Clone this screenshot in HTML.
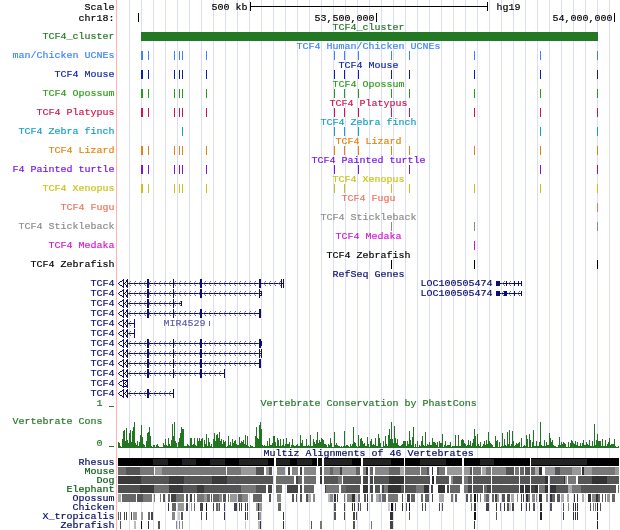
<!DOCTYPE html>
<html><head><meta charset="utf-8"><title>UCSC Genome Browser chr18 TCF4</title>
<style>
html,body{margin:0;padding:0;background:#fff;}
#b{position:relative;width:620px;height:530px;overflow:hidden;background:#fff;}
#b svg{position:absolute;left:0;top:0;}
.t{position:absolute;font-family:"Liberation Mono", monospace;font-size:10px;line-height:10px;height:10px;white-space:pre;letter-spacing:0;transform:scaleY(.9);transform-origin:0 0;-webkit-text-stroke:.18px currentColor;}
.u{-webkit-text-stroke:.6px currentColor;width:5px;overflow:hidden;}
</style></head><body>
<div id="b">
<svg width="620" height="530" viewBox="0 0 620 530" shape-rendering="crispEdges">
<rect x="129" y="0" width="1" height="530" fill="#dcdcff"/>
<rect x="141" y="0" width="1" height="530" fill="#dcdcff"/>
<rect x="153" y="0" width="1" height="530" fill="#dcdcff"/>
<rect x="165" y="0" width="1" height="530" fill="#dcdcff"/>
<rect x="177" y="0" width="1" height="530" fill="#dcdcff"/>
<rect x="189" y="0" width="1" height="530" fill="#dcdcff"/>
<rect x="201" y="0" width="1" height="530" fill="#dcdcff"/>
<rect x="213" y="0" width="1" height="530" fill="#dcdcff"/>
<rect x="225" y="0" width="1" height="530" fill="#dcdcff"/>
<rect x="237" y="0" width="1" height="530" fill="#dcdcff"/>
<rect x="249" y="0" width="1" height="530" fill="#dcdcff"/>
<rect x="261" y="0" width="1" height="530" fill="#dcdcff"/>
<rect x="273" y="0" width="1" height="530" fill="#dcdcff"/>
<rect x="285" y="0" width="1" height="530" fill="#dcdcff"/>
<rect x="297" y="0" width="1" height="530" fill="#dcdcff"/>
<rect x="309" y="0" width="1" height="530" fill="#dcdcff"/>
<rect x="321" y="0" width="1" height="530" fill="#dcdcff"/>
<rect x="333" y="0" width="1" height="530" fill="#dcdcff"/>
<rect x="345" y="0" width="1" height="530" fill="#dcdcff"/>
<rect x="357" y="0" width="1" height="530" fill="#dcdcff"/>
<rect x="369" y="0" width="1" height="530" fill="#dcdcff"/>
<rect x="381" y="0" width="1" height="530" fill="#dcdcff"/>
<rect x="393" y="0" width="1" height="530" fill="#dcdcff"/>
<rect x="405" y="0" width="1" height="530" fill="#dcdcff"/>
<rect x="417" y="0" width="1" height="530" fill="#dcdcff"/>
<rect x="429" y="0" width="1" height="530" fill="#dcdcff"/>
<rect x="441" y="0" width="1" height="530" fill="#dcdcff"/>
<rect x="453" y="0" width="1" height="530" fill="#dcdcff"/>
<rect x="465" y="0" width="1" height="530" fill="#dcdcff"/>
<rect x="477" y="0" width="1" height="530" fill="#dcdcff"/>
<rect x="489" y="0" width="1" height="530" fill="#dcdcff"/>
<rect x="501" y="0" width="1" height="530" fill="#dcdcff"/>
<rect x="513" y="0" width="1" height="530" fill="#dcdcff"/>
<rect x="525" y="0" width="1" height="530" fill="#dcdcff"/>
<rect x="537" y="0" width="1" height="530" fill="#dcdcff"/>
<rect x="549" y="0" width="1" height="530" fill="#dcdcff"/>
<rect x="561" y="0" width="1" height="530" fill="#dcdcff"/>
<rect x="573" y="0" width="1" height="530" fill="#dcdcff"/>
<rect x="585" y="0" width="1" height="530" fill="#dcdcff"/>
<rect x="597" y="0" width="1" height="530" fill="#dcdcff"/>
<rect x="609" y="0" width="1" height="530" fill="#dcdcff"/>
<rect x="116" y="0" width="1" height="530" fill="#ffb4b4"/>
<rect x="250" y="6" width="238" height="1" fill="#000000"/>
<rect x="250" y="2" width="1" height="9" fill="#000000"/>
<rect x="487" y="2" width="1" height="9" fill="#000000"/>
<rect x="138" y="13" width="1" height="9" fill="#000000"/>
<rect x="376" y="13" width="1" height="9" fill="#000000"/>
<rect x="614" y="13" width="1" height="9" fill="#000000"/>
<rect x="141" y="32" width="457" height="9" fill="#237823"/>
<rect x="141" y="51" width="2" height="9" fill="#3c82ff"/>
<rect x="148" y="51" width="1" height="9" fill="#3c82ff"/>
<rect x="174" y="51" width="1" height="9" fill="#3c82ff"/>
<rect x="179" y="51" width="1" height="9" fill="#3c82ff"/>
<rect x="182" y="51" width="1" height="9" fill="#3c82ff"/>
<rect x="206" y="51" width="1" height="9" fill="#3c82ff"/>
<rect x="334" y="51" width="1" height="9" fill="#3c82ff"/>
<rect x="344" y="51" width="1" height="9" fill="#3c82ff"/>
<rect x="358" y="51" width="1" height="9" fill="#3c82ff"/>
<rect x="391" y="51" width="1" height="9" fill="#3c82ff"/>
<rect x="409" y="51" width="1" height="9" fill="#3c82ff"/>
<rect x="474" y="51" width="1" height="9" fill="#3c82ff"/>
<rect x="540" y="51" width="1" height="9" fill="#3c82ff"/>
<rect x="597" y="51" width="1" height="9" fill="#3c82ff"/>
<rect x="141" y="70" width="2" height="9" fill="#0a1eb4"/>
<rect x="148" y="70" width="1" height="9" fill="#0a1eb4"/>
<rect x="174" y="70" width="1" height="9" fill="#0a1eb4"/>
<rect x="179" y="70" width="1" height="9" fill="#0a1eb4"/>
<rect x="182" y="70" width="1" height="9" fill="#0a1eb4"/>
<rect x="206" y="70" width="1" height="9" fill="#0a1eb4"/>
<rect x="334" y="70" width="1" height="9" fill="#0a1eb4"/>
<rect x="344" y="70" width="1" height="9" fill="#0a1eb4"/>
<rect x="358" y="70" width="1" height="9" fill="#0a1eb4"/>
<rect x="391" y="70" width="1" height="9" fill="#0a1eb4"/>
<rect x="409" y="70" width="1" height="9" fill="#0a1eb4"/>
<rect x="474" y="70" width="1" height="9" fill="#0a1eb4"/>
<rect x="540" y="70" width="1" height="9" fill="#0a1eb4"/>
<rect x="597" y="70" width="1" height="9" fill="#0a1eb4"/>
<rect x="141" y="89" width="2" height="9" fill="#2a9b14"/>
<rect x="148" y="89" width="1" height="9" fill="#2a9b14"/>
<rect x="174" y="89" width="1" height="9" fill="#2a9b14"/>
<rect x="179" y="89" width="1" height="9" fill="#2a9b14"/>
<rect x="182" y="89" width="1" height="9" fill="#2a9b14"/>
<rect x="206" y="89" width="1" height="9" fill="#2a9b14"/>
<rect x="334" y="89" width="1" height="9" fill="#2a9b14"/>
<rect x="344" y="89" width="1" height="9" fill="#2a9b14"/>
<rect x="358" y="89" width="1" height="9" fill="#2a9b14"/>
<rect x="391" y="89" width="1" height="9" fill="#2a9b14"/>
<rect x="409" y="89" width="1" height="9" fill="#2a9b14"/>
<rect x="474" y="89" width="1" height="9" fill="#2a9b14"/>
<rect x="540" y="89" width="1" height="9" fill="#2a9b14"/>
<rect x="597" y="89" width="1" height="9" fill="#2a9b14"/>
<rect x="141" y="108" width="2" height="9" fill="#d2144b"/>
<rect x="148" y="108" width="1" height="9" fill="#d2144b"/>
<rect x="174" y="108" width="1" height="9" fill="#d2144b"/>
<rect x="179" y="108" width="1" height="9" fill="#d2144b"/>
<rect x="182" y="108" width="1" height="9" fill="#d2144b"/>
<rect x="206" y="108" width="1" height="9" fill="#d2144b"/>
<rect x="334" y="108" width="1" height="9" fill="#d2144b"/>
<rect x="344" y="108" width="1" height="9" fill="#d2144b"/>
<rect x="358" y="108" width="1" height="9" fill="#d2144b"/>
<rect x="391" y="108" width="1" height="9" fill="#d2144b"/>
<rect x="409" y="108" width="1" height="9" fill="#d2144b"/>
<rect x="474" y="108" width="1" height="9" fill="#d2144b"/>
<rect x="540" y="108" width="1" height="9" fill="#d2144b"/>
<rect x="597" y="108" width="1" height="9" fill="#d2144b"/>
<rect x="182" y="127" width="1" height="9" fill="#14a0c8"/>
<rect x="334" y="127" width="1" height="9" fill="#14a0c8"/>
<rect x="344" y="127" width="1" height="9" fill="#14a0c8"/>
<rect x="358" y="127" width="1" height="9" fill="#14a0c8"/>
<rect x="540" y="127" width="1" height="9" fill="#14a0c8"/>
<rect x="597" y="127" width="1" height="9" fill="#14a0c8"/>
<rect x="141" y="146" width="2" height="9" fill="#e6820a"/>
<rect x="148" y="146" width="1" height="9" fill="#e6820a"/>
<rect x="174" y="146" width="1" height="9" fill="#e6820a"/>
<rect x="179" y="146" width="1" height="9" fill="#e6820a"/>
<rect x="182" y="146" width="1" height="9" fill="#e6820a"/>
<rect x="206" y="146" width="1" height="9" fill="#e6820a"/>
<rect x="334" y="146" width="1" height="9" fill="#e6820a"/>
<rect x="344" y="146" width="1" height="9" fill="#e6820a"/>
<rect x="358" y="146" width="1" height="9" fill="#e6820a"/>
<rect x="391" y="146" width="1" height="9" fill="#e6820a"/>
<rect x="409" y="146" width="1" height="9" fill="#e6820a"/>
<rect x="474" y="146" width="1" height="9" fill="#e6820a"/>
<rect x="540" y="146" width="1" height="9" fill="#e6820a"/>
<rect x="597" y="146" width="1" height="9" fill="#e6820a"/>
<rect x="141" y="165" width="2" height="9" fill="#7814e6"/>
<rect x="148" y="165" width="1" height="9" fill="#7814e6"/>
<rect x="174" y="165" width="1" height="9" fill="#7814e6"/>
<rect x="179" y="165" width="1" height="9" fill="#7814e6"/>
<rect x="182" y="165" width="1" height="9" fill="#7814e6"/>
<rect x="206" y="165" width="1" height="9" fill="#7814e6"/>
<rect x="334" y="165" width="1" height="9" fill="#7814e6"/>
<rect x="358" y="165" width="1" height="9" fill="#7814e6"/>
<rect x="409" y="165" width="1" height="9" fill="#7814e6"/>
<rect x="540" y="165" width="1" height="9" fill="#7814e6"/>
<rect x="597" y="165" width="1" height="9" fill="#7814e6"/>
<rect x="141" y="184" width="2" height="9" fill="#c8c314"/>
<rect x="148" y="184" width="1" height="9" fill="#c8c314"/>
<rect x="174" y="184" width="1" height="9" fill="#c8c314"/>
<rect x="179" y="184" width="1" height="9" fill="#c8c314"/>
<rect x="182" y="184" width="1" height="9" fill="#c8c314"/>
<rect x="206" y="184" width="1" height="9" fill="#c8c314"/>
<rect x="334" y="184" width="1" height="9" fill="#c8c314"/>
<rect x="344" y="184" width="1" height="9" fill="#c8c314"/>
<rect x="391" y="184" width="1" height="9" fill="#c8c314"/>
<rect x="409" y="184" width="1" height="9" fill="#c8c314"/>
<rect x="474" y="184" width="1" height="9" fill="#c8c314"/>
<rect x="540" y="184" width="1" height="9" fill="#c8c314"/>
<rect x="597" y="184" width="1" height="9" fill="#c8c314"/>
<rect x="597" y="203" width="1" height="9" fill="#f0735a"/>
<rect x="391" y="222" width="1" height="9" fill="#8c8c8c"/>
<rect x="474" y="222" width="1" height="9" fill="#8c8c8c"/>
<rect x="597" y="222" width="1" height="9" fill="#8c8c8c"/>
<rect x="474" y="241" width="1" height="9" fill="#d214d2"/>
<rect x="391" y="260" width="1" height="9" fill="#000000"/>
<rect x="474" y="260" width="1" height="9" fill="#000000"/>
<rect x="597" y="260" width="1" height="9" fill="#000000"/>
<path d="M118 283h1v1h-1zM119 282h1v1h-1zM119 284h1v1h-1zM120 281h1v1h-1zM120 285h1v1h-1zM121 281h1v1h-1zM121 285h1v1h-1zM122 280h1v1h-1zM122 286h1v1h-1zM123 279h1v1h-1zM123 287h1v1h-1zM124 283h1v1h-1zM125 282h1v1h-1zM125 284h1v1h-1zM126 280h1v1h-1zM126 281h1v1h-1zM126 285h1v1h-1zM126 286h1v1h-1zM127 279h1v1h-1zM127 287h1v1h-1zM123 279h1v9h-1zM127 279h1v9h-1z" fill="#0c0c78"/>
<rect x="128" y="283" width="156" height="1" fill="#0c0c78"/>
<path d="M128 283h1v1h-1zM133 283h1v1h-1zM138 283h1v1h-1zM143 283h1v1h-1zM148 283h1v1h-1zM153 283h1v1h-1zM158 283h1v1h-1zM163 283h1v1h-1zM168 283h1v1h-1zM173 283h1v1h-1zM178 283h1v1h-1zM183 283h1v1h-1zM188 283h1v1h-1zM193 283h1v1h-1zM198 283h1v1h-1zM203 283h1v1h-1zM208 283h1v1h-1zM213 283h1v1h-1zM218 283h1v1h-1zM223 283h1v1h-1zM228 283h1v1h-1zM233 283h1v1h-1zM238 283h1v1h-1zM243 283h1v1h-1zM248 283h1v1h-1zM253 283h1v1h-1zM258 283h1v1h-1zM263 283h1v1h-1zM268 283h1v1h-1zM273 283h1v1h-1zM278 283h1v1h-1z" fill="#4c4c9e"/>
<path d="M129 282h1v1h-1zM129 284h1v1h-1zM134 282h1v1h-1zM134 284h1v1h-1zM139 282h1v1h-1zM139 284h1v1h-1zM144 282h1v1h-1zM144 284h1v1h-1zM149 282h1v1h-1zM149 284h1v1h-1zM154 282h1v1h-1zM154 284h1v1h-1zM159 282h1v1h-1zM159 284h1v1h-1zM164 282h1v1h-1zM164 284h1v1h-1zM169 282h1v1h-1zM169 284h1v1h-1zM174 282h1v1h-1zM174 284h1v1h-1zM179 282h1v1h-1zM179 284h1v1h-1zM184 282h1v1h-1zM184 284h1v1h-1zM189 282h1v1h-1zM189 284h1v1h-1zM194 282h1v1h-1zM194 284h1v1h-1zM199 282h1v1h-1zM199 284h1v1h-1zM204 282h1v1h-1zM204 284h1v1h-1zM209 282h1v1h-1zM209 284h1v1h-1zM214 282h1v1h-1zM214 284h1v1h-1zM219 282h1v1h-1zM219 284h1v1h-1zM224 282h1v1h-1zM224 284h1v1h-1zM229 282h1v1h-1zM229 284h1v1h-1zM234 282h1v1h-1zM234 284h1v1h-1zM239 282h1v1h-1zM239 284h1v1h-1zM244 282h1v1h-1zM244 284h1v1h-1zM249 282h1v1h-1zM249 284h1v1h-1zM254 282h1v1h-1zM254 284h1v1h-1zM259 282h1v1h-1zM259 284h1v1h-1zM264 282h1v1h-1zM264 284h1v1h-1zM269 282h1v1h-1zM269 284h1v1h-1zM274 282h1v1h-1zM274 284h1v1h-1zM279 282h1v1h-1zM279 284h1v1h-1z" fill="#9494ca"/>
<path d="M130 281h1v1h-1zM130 285h1v1h-1zM135 281h1v1h-1zM135 285h1v1h-1zM140 281h1v1h-1zM140 285h1v1h-1zM145 281h1v1h-1zM145 285h1v1h-1zM150 281h1v1h-1zM150 285h1v1h-1zM155 281h1v1h-1zM155 285h1v1h-1zM160 281h1v1h-1zM160 285h1v1h-1zM165 281h1v1h-1zM165 285h1v1h-1zM170 281h1v1h-1zM170 285h1v1h-1zM175 281h1v1h-1zM175 285h1v1h-1zM180 281h1v1h-1zM180 285h1v1h-1zM185 281h1v1h-1zM185 285h1v1h-1zM190 281h1v1h-1zM190 285h1v1h-1zM195 281h1v1h-1zM195 285h1v1h-1zM200 281h1v1h-1zM200 285h1v1h-1zM205 281h1v1h-1zM205 285h1v1h-1zM210 281h1v1h-1zM210 285h1v1h-1zM215 281h1v1h-1zM215 285h1v1h-1zM220 281h1v1h-1zM220 285h1v1h-1zM225 281h1v1h-1zM225 285h1v1h-1zM230 281h1v1h-1zM230 285h1v1h-1zM235 281h1v1h-1zM235 285h1v1h-1zM240 281h1v1h-1zM240 285h1v1h-1zM245 281h1v1h-1zM245 285h1v1h-1zM250 281h1v1h-1zM250 285h1v1h-1zM255 281h1v1h-1zM255 285h1v1h-1zM260 281h1v1h-1zM260 285h1v1h-1zM265 281h1v1h-1zM265 285h1v1h-1zM270 281h1v1h-1zM270 285h1v1h-1zM275 281h1v1h-1zM275 285h1v1h-1zM280 281h1v1h-1zM280 285h1v1h-1z" fill="#5d5da8"/>
<rect x="147" y="279" width="2" height="9" fill="#0c0c78"/>
<rect x="173" y="279" width="1" height="9" fill="#0c0c78"/>
<rect x="200" y="279" width="2" height="9" fill="#0c0c78"/>
<rect x="259" y="279" width="2" height="9" fill="#0c0c78"/>
<rect x="281" y="279" width="1" height="9" fill="#0c0c78"/>
<rect x="283" y="279" width="1" height="9" fill="#0c0c78"/>
<path d="M118 293h1v1h-1zM119 292h1v1h-1zM119 294h1v1h-1zM120 291h1v1h-1zM120 295h1v1h-1zM121 291h1v1h-1zM121 295h1v1h-1zM122 290h1v1h-1zM122 296h1v1h-1zM123 289h1v1h-1zM123 297h1v1h-1zM124 293h1v1h-1zM125 292h1v1h-1zM125 294h1v1h-1zM126 290h1v1h-1zM126 291h1v1h-1zM126 295h1v1h-1zM126 296h1v1h-1zM127 289h1v1h-1zM127 297h1v1h-1zM123 289h1v9h-1zM127 289h1v9h-1z" fill="#0c0c78"/>
<rect x="128" y="293" width="134" height="1" fill="#0c0c78"/>
<path d="M128 293h1v1h-1zM133 293h1v1h-1zM138 293h1v1h-1zM143 293h1v1h-1zM148 293h1v1h-1zM153 293h1v1h-1zM158 293h1v1h-1zM163 293h1v1h-1zM168 293h1v1h-1zM173 293h1v1h-1zM178 293h1v1h-1zM183 293h1v1h-1zM188 293h1v1h-1zM193 293h1v1h-1zM198 293h1v1h-1zM203 293h1v1h-1zM208 293h1v1h-1zM213 293h1v1h-1zM218 293h1v1h-1zM223 293h1v1h-1zM228 293h1v1h-1zM233 293h1v1h-1zM238 293h1v1h-1zM243 293h1v1h-1zM248 293h1v1h-1zM253 293h1v1h-1zM258 293h1v1h-1z" fill="#4c4c9e"/>
<path d="M129 292h1v1h-1zM129 294h1v1h-1zM134 292h1v1h-1zM134 294h1v1h-1zM139 292h1v1h-1zM139 294h1v1h-1zM144 292h1v1h-1zM144 294h1v1h-1zM149 292h1v1h-1zM149 294h1v1h-1zM154 292h1v1h-1zM154 294h1v1h-1zM159 292h1v1h-1zM159 294h1v1h-1zM164 292h1v1h-1zM164 294h1v1h-1zM169 292h1v1h-1zM169 294h1v1h-1zM174 292h1v1h-1zM174 294h1v1h-1zM179 292h1v1h-1zM179 294h1v1h-1zM184 292h1v1h-1zM184 294h1v1h-1zM189 292h1v1h-1zM189 294h1v1h-1zM194 292h1v1h-1zM194 294h1v1h-1zM199 292h1v1h-1zM199 294h1v1h-1zM204 292h1v1h-1zM204 294h1v1h-1zM209 292h1v1h-1zM209 294h1v1h-1zM214 292h1v1h-1zM214 294h1v1h-1zM219 292h1v1h-1zM219 294h1v1h-1zM224 292h1v1h-1zM224 294h1v1h-1zM229 292h1v1h-1zM229 294h1v1h-1zM234 292h1v1h-1zM234 294h1v1h-1zM239 292h1v1h-1zM239 294h1v1h-1zM244 292h1v1h-1zM244 294h1v1h-1zM249 292h1v1h-1zM249 294h1v1h-1zM254 292h1v1h-1zM254 294h1v1h-1zM259 292h1v1h-1zM259 294h1v1h-1z" fill="#9494ca"/>
<path d="M130 291h1v1h-1zM130 295h1v1h-1zM135 291h1v1h-1zM135 295h1v1h-1zM140 291h1v1h-1zM140 295h1v1h-1zM145 291h1v1h-1zM145 295h1v1h-1zM150 291h1v1h-1zM150 295h1v1h-1zM155 291h1v1h-1zM155 295h1v1h-1zM160 291h1v1h-1zM160 295h1v1h-1zM165 291h1v1h-1zM165 295h1v1h-1zM170 291h1v1h-1zM170 295h1v1h-1zM175 291h1v1h-1zM175 295h1v1h-1zM180 291h1v1h-1zM180 295h1v1h-1zM185 291h1v1h-1zM185 295h1v1h-1zM190 291h1v1h-1zM190 295h1v1h-1zM195 291h1v1h-1zM195 295h1v1h-1zM200 291h1v1h-1zM200 295h1v1h-1zM205 291h1v1h-1zM205 295h1v1h-1zM210 291h1v1h-1zM210 295h1v1h-1zM215 291h1v1h-1zM215 295h1v1h-1zM220 291h1v1h-1zM220 295h1v1h-1zM225 291h1v1h-1zM225 295h1v1h-1zM230 291h1v1h-1zM230 295h1v1h-1zM235 291h1v1h-1zM235 295h1v1h-1zM240 291h1v1h-1zM240 295h1v1h-1zM245 291h1v1h-1zM245 295h1v1h-1zM250 291h1v1h-1zM250 295h1v1h-1zM255 291h1v1h-1zM255 295h1v1h-1zM260 291h1v1h-1zM260 295h1v1h-1z" fill="#5d5da8"/>
<rect x="147" y="289" width="2" height="9" fill="#0c0c78"/>
<rect x="173" y="289" width="1" height="9" fill="#0c0c78"/>
<rect x="200" y="289" width="2" height="9" fill="#0c0c78"/>
<rect x="259" y="289" width="1" height="9" fill="#0c0c78"/>
<rect x="261" y="291" width="1" height="5" fill="#0c0c78"/>
<rect x="260" y="291" width="1" height="1" fill="#0c0c78"/>
<rect x="260" y="295" width="1" height="1" fill="#0c0c78"/>
<path d="M118 303h1v1h-1zM119 302h1v1h-1zM119 304h1v1h-1zM120 301h1v1h-1zM120 305h1v1h-1zM121 301h1v1h-1zM121 305h1v1h-1zM122 300h1v1h-1zM122 306h1v1h-1zM123 299h1v1h-1zM123 307h1v1h-1zM124 303h1v1h-1zM125 302h1v1h-1zM125 304h1v1h-1zM126 300h1v1h-1zM126 301h1v1h-1zM126 305h1v1h-1zM126 306h1v1h-1zM127 299h1v1h-1zM127 307h1v1h-1zM123 299h1v9h-1zM127 299h1v9h-1z" fill="#0c0c78"/>
<rect x="128" y="303" width="54" height="1" fill="#0c0c78"/>
<path d="M128 303h1v1h-1zM133 303h1v1h-1zM138 303h1v1h-1zM143 303h1v1h-1zM148 303h1v1h-1zM153 303h1v1h-1zM158 303h1v1h-1zM163 303h1v1h-1zM168 303h1v1h-1zM173 303h1v1h-1zM178 303h1v1h-1z" fill="#4c4c9e"/>
<path d="M129 302h1v1h-1zM129 304h1v1h-1zM134 302h1v1h-1zM134 304h1v1h-1zM139 302h1v1h-1zM139 304h1v1h-1zM144 302h1v1h-1zM144 304h1v1h-1zM149 302h1v1h-1zM149 304h1v1h-1zM154 302h1v1h-1zM154 304h1v1h-1zM159 302h1v1h-1zM159 304h1v1h-1zM164 302h1v1h-1zM164 304h1v1h-1zM169 302h1v1h-1zM169 304h1v1h-1zM174 302h1v1h-1zM174 304h1v1h-1zM179 302h1v1h-1zM179 304h1v1h-1z" fill="#9494ca"/>
<path d="M130 301h1v1h-1zM130 305h1v1h-1zM135 301h1v1h-1zM135 305h1v1h-1zM140 301h1v1h-1zM140 305h1v1h-1zM145 301h1v1h-1zM145 305h1v1h-1zM150 301h1v1h-1zM150 305h1v1h-1zM155 301h1v1h-1zM155 305h1v1h-1zM160 301h1v1h-1zM160 305h1v1h-1zM165 301h1v1h-1zM165 305h1v1h-1zM170 301h1v1h-1zM170 305h1v1h-1zM175 301h1v1h-1zM175 305h1v1h-1zM180 301h1v1h-1zM180 305h1v1h-1z" fill="#5d5da8"/>
<rect x="147" y="299" width="2" height="9" fill="#0c0c78"/>
<rect x="173" y="299" width="1" height="9" fill="#0c0c78"/>
<rect x="181" y="301" width="1" height="5" fill="#0c0c78"/>
<path d="M118 313h1v1h-1zM119 312h1v1h-1zM119 314h1v1h-1zM120 311h1v1h-1zM120 315h1v1h-1zM121 311h1v1h-1zM121 315h1v1h-1zM122 310h1v1h-1zM122 316h1v1h-1zM123 309h1v1h-1zM123 317h1v1h-1zM124 313h1v1h-1zM125 312h1v1h-1zM125 314h1v1h-1zM126 310h1v1h-1zM126 311h1v1h-1zM126 315h1v1h-1zM126 316h1v1h-1zM127 309h1v1h-1zM127 317h1v1h-1zM123 309h1v9h-1zM127 309h1v9h-1z" fill="#0c0c78"/>
<rect x="128" y="313" width="132" height="1" fill="#0c0c78"/>
<path d="M128 313h1v1h-1zM133 313h1v1h-1zM138 313h1v1h-1zM143 313h1v1h-1zM148 313h1v1h-1zM153 313h1v1h-1zM158 313h1v1h-1zM163 313h1v1h-1zM168 313h1v1h-1zM173 313h1v1h-1zM178 313h1v1h-1zM183 313h1v1h-1zM188 313h1v1h-1zM193 313h1v1h-1zM198 313h1v1h-1zM203 313h1v1h-1zM208 313h1v1h-1zM213 313h1v1h-1zM218 313h1v1h-1zM223 313h1v1h-1zM228 313h1v1h-1zM233 313h1v1h-1zM238 313h1v1h-1zM243 313h1v1h-1zM248 313h1v1h-1zM253 313h1v1h-1z" fill="#4c4c9e"/>
<path d="M129 312h1v1h-1zM129 314h1v1h-1zM134 312h1v1h-1zM134 314h1v1h-1zM139 312h1v1h-1zM139 314h1v1h-1zM144 312h1v1h-1zM144 314h1v1h-1zM149 312h1v1h-1zM149 314h1v1h-1zM154 312h1v1h-1zM154 314h1v1h-1zM159 312h1v1h-1zM159 314h1v1h-1zM164 312h1v1h-1zM164 314h1v1h-1zM169 312h1v1h-1zM169 314h1v1h-1zM174 312h1v1h-1zM174 314h1v1h-1zM179 312h1v1h-1zM179 314h1v1h-1zM184 312h1v1h-1zM184 314h1v1h-1zM189 312h1v1h-1zM189 314h1v1h-1zM194 312h1v1h-1zM194 314h1v1h-1zM199 312h1v1h-1zM199 314h1v1h-1zM204 312h1v1h-1zM204 314h1v1h-1zM209 312h1v1h-1zM209 314h1v1h-1zM214 312h1v1h-1zM214 314h1v1h-1zM219 312h1v1h-1zM219 314h1v1h-1zM224 312h1v1h-1zM224 314h1v1h-1zM229 312h1v1h-1zM229 314h1v1h-1zM234 312h1v1h-1zM234 314h1v1h-1zM239 312h1v1h-1zM239 314h1v1h-1zM244 312h1v1h-1zM244 314h1v1h-1zM249 312h1v1h-1zM249 314h1v1h-1zM254 312h1v1h-1zM254 314h1v1h-1z" fill="#9494ca"/>
<path d="M130 311h1v1h-1zM130 315h1v1h-1zM135 311h1v1h-1zM135 315h1v1h-1zM140 311h1v1h-1zM140 315h1v1h-1zM145 311h1v1h-1zM145 315h1v1h-1zM150 311h1v1h-1zM150 315h1v1h-1zM155 311h1v1h-1zM155 315h1v1h-1zM160 311h1v1h-1zM160 315h1v1h-1zM165 311h1v1h-1zM165 315h1v1h-1zM170 311h1v1h-1zM170 315h1v1h-1zM175 311h1v1h-1zM175 315h1v1h-1zM180 311h1v1h-1zM180 315h1v1h-1zM185 311h1v1h-1zM185 315h1v1h-1zM190 311h1v1h-1zM190 315h1v1h-1zM195 311h1v1h-1zM195 315h1v1h-1zM200 311h1v1h-1zM200 315h1v1h-1zM205 311h1v1h-1zM205 315h1v1h-1zM210 311h1v1h-1zM210 315h1v1h-1zM215 311h1v1h-1zM215 315h1v1h-1zM220 311h1v1h-1zM220 315h1v1h-1zM225 311h1v1h-1zM225 315h1v1h-1zM230 311h1v1h-1zM230 315h1v1h-1zM235 311h1v1h-1zM235 315h1v1h-1zM240 311h1v1h-1zM240 315h1v1h-1zM245 311h1v1h-1zM245 315h1v1h-1zM250 311h1v1h-1zM250 315h1v1h-1zM255 311h1v1h-1zM255 315h1v1h-1z" fill="#5d5da8"/>
<rect x="147" y="309" width="2" height="9" fill="#0c0c78"/>
<rect x="173" y="309" width="1" height="9" fill="#0c0c78"/>
<rect x="200" y="309" width="2" height="9" fill="#0c0c78"/>
<rect x="259" y="309" width="2" height="9" fill="#0c0c78"/>
<path d="M118 323h1v1h-1zM119 322h1v1h-1zM119 324h1v1h-1zM120 321h1v1h-1zM120 325h1v1h-1zM121 321h1v1h-1zM121 325h1v1h-1zM122 320h1v1h-1zM122 326h1v1h-1zM123 319h1v1h-1zM123 327h1v1h-1zM124 323h1v1h-1zM125 322h1v1h-1zM125 324h1v1h-1zM126 320h1v1h-1zM126 321h1v1h-1zM126 325h1v1h-1zM126 326h1v1h-1zM127 319h1v1h-1zM127 327h1v1h-1zM123 319h1v9h-1zM127 319h1v9h-1z" fill="#0c0c78"/>
<rect x="128" y="323" width="6" height="1" fill="#0c0c78"/>
<path d="M128 323h1v1h-1z" fill="#4c4c9e"/>
<path d="M129 322h1v1h-1zM129 324h1v1h-1z" fill="#9494ca"/>
<path d="M130 321h1v1h-1zM130 325h1v1h-1z" fill="#5d5da8"/>
<rect x="134" y="319" width="1" height="9" fill="#0c0c78"/>
<path d="M118 333h1v1h-1zM119 332h1v1h-1zM119 334h1v1h-1zM120 331h1v1h-1zM120 335h1v1h-1zM121 331h1v1h-1zM121 335h1v1h-1zM122 330h1v1h-1zM122 336h1v1h-1zM123 329h1v1h-1zM123 337h1v1h-1zM124 333h1v1h-1zM125 332h1v1h-1zM125 334h1v1h-1zM126 330h1v1h-1zM126 331h1v1h-1zM126 335h1v1h-1zM126 336h1v1h-1zM127 329h1v1h-1zM127 337h1v1h-1zM123 329h1v9h-1zM127 329h1v9h-1z" fill="#0c0c78"/>
<rect x="128" y="333" width="6" height="1" fill="#0c0c78"/>
<path d="M128 333h1v1h-1z" fill="#4c4c9e"/>
<path d="M129 332h1v1h-1zM129 334h1v1h-1z" fill="#9494ca"/>
<path d="M130 331h1v1h-1zM130 335h1v1h-1z" fill="#5d5da8"/>
<rect x="134" y="329" width="1" height="9" fill="#0c0c78"/>
<path d="M118 343h1v1h-1zM119 342h1v1h-1zM119 344h1v1h-1zM120 341h1v1h-1zM120 345h1v1h-1zM121 341h1v1h-1zM121 345h1v1h-1zM122 340h1v1h-1zM122 346h1v1h-1zM123 339h1v1h-1zM123 347h1v1h-1zM124 343h1v1h-1zM125 342h1v1h-1zM125 344h1v1h-1zM126 340h1v1h-1zM126 341h1v1h-1zM126 345h1v1h-1zM126 346h1v1h-1zM127 339h1v1h-1zM127 347h1v1h-1zM123 339h1v9h-1zM127 339h1v9h-1z" fill="#0c0c78"/>
<rect x="128" y="343" width="133" height="1" fill="#0c0c78"/>
<path d="M128 343h1v1h-1zM133 343h1v1h-1zM138 343h1v1h-1zM143 343h1v1h-1zM148 343h1v1h-1zM153 343h1v1h-1zM158 343h1v1h-1zM163 343h1v1h-1zM168 343h1v1h-1zM173 343h1v1h-1zM178 343h1v1h-1zM183 343h1v1h-1zM188 343h1v1h-1zM193 343h1v1h-1zM198 343h1v1h-1zM203 343h1v1h-1zM208 343h1v1h-1zM213 343h1v1h-1zM218 343h1v1h-1zM223 343h1v1h-1zM228 343h1v1h-1zM233 343h1v1h-1zM238 343h1v1h-1zM243 343h1v1h-1zM248 343h1v1h-1zM253 343h1v1h-1zM258 343h1v1h-1z" fill="#4c4c9e"/>
<path d="M129 342h1v1h-1zM129 344h1v1h-1zM134 342h1v1h-1zM134 344h1v1h-1zM139 342h1v1h-1zM139 344h1v1h-1zM144 342h1v1h-1zM144 344h1v1h-1zM149 342h1v1h-1zM149 344h1v1h-1zM154 342h1v1h-1zM154 344h1v1h-1zM159 342h1v1h-1zM159 344h1v1h-1zM164 342h1v1h-1zM164 344h1v1h-1zM169 342h1v1h-1zM169 344h1v1h-1zM174 342h1v1h-1zM174 344h1v1h-1zM179 342h1v1h-1zM179 344h1v1h-1zM184 342h1v1h-1zM184 344h1v1h-1zM189 342h1v1h-1zM189 344h1v1h-1zM194 342h1v1h-1zM194 344h1v1h-1zM199 342h1v1h-1zM199 344h1v1h-1zM204 342h1v1h-1zM204 344h1v1h-1zM209 342h1v1h-1zM209 344h1v1h-1zM214 342h1v1h-1zM214 344h1v1h-1zM219 342h1v1h-1zM219 344h1v1h-1zM224 342h1v1h-1zM224 344h1v1h-1zM229 342h1v1h-1zM229 344h1v1h-1zM234 342h1v1h-1zM234 344h1v1h-1zM239 342h1v1h-1zM239 344h1v1h-1zM244 342h1v1h-1zM244 344h1v1h-1zM249 342h1v1h-1zM249 344h1v1h-1zM254 342h1v1h-1zM254 344h1v1h-1zM259 342h1v1h-1zM259 344h1v1h-1z" fill="#9494ca"/>
<path d="M130 341h1v1h-1zM130 345h1v1h-1zM135 341h1v1h-1zM135 345h1v1h-1zM140 341h1v1h-1zM140 345h1v1h-1zM145 341h1v1h-1zM145 345h1v1h-1zM150 341h1v1h-1zM150 345h1v1h-1zM155 341h1v1h-1zM155 345h1v1h-1zM160 341h1v1h-1zM160 345h1v1h-1zM165 341h1v1h-1zM165 345h1v1h-1zM170 341h1v1h-1zM170 345h1v1h-1zM175 341h1v1h-1zM175 345h1v1h-1zM180 341h1v1h-1zM180 345h1v1h-1zM185 341h1v1h-1zM185 345h1v1h-1zM190 341h1v1h-1zM190 345h1v1h-1zM195 341h1v1h-1zM195 345h1v1h-1zM200 341h1v1h-1zM200 345h1v1h-1zM205 341h1v1h-1zM205 345h1v1h-1zM210 341h1v1h-1zM210 345h1v1h-1zM215 341h1v1h-1zM215 345h1v1h-1zM220 341h1v1h-1zM220 345h1v1h-1zM225 341h1v1h-1zM225 345h1v1h-1zM230 341h1v1h-1zM230 345h1v1h-1zM235 341h1v1h-1zM235 345h1v1h-1zM240 341h1v1h-1zM240 345h1v1h-1zM245 341h1v1h-1zM245 345h1v1h-1zM250 341h1v1h-1zM250 345h1v1h-1zM255 341h1v1h-1zM255 345h1v1h-1zM260 341h1v1h-1zM260 345h1v1h-1z" fill="#5d5da8"/>
<rect x="147" y="339" width="2" height="9" fill="#0c0c78"/>
<rect x="173" y="339" width="1" height="9" fill="#0c0c78"/>
<rect x="200" y="339" width="2" height="9" fill="#0c0c78"/>
<rect x="259" y="339" width="2" height="9" fill="#0c0c78"/>
<rect x="261" y="341" width="1" height="5" fill="#0c0c78"/>
<path d="M118 353h1v1h-1zM119 352h1v1h-1zM119 354h1v1h-1zM120 351h1v1h-1zM120 355h1v1h-1zM121 351h1v1h-1zM121 355h1v1h-1zM122 350h1v1h-1zM122 356h1v1h-1zM123 349h1v1h-1zM123 357h1v1h-1zM124 353h1v1h-1zM125 352h1v1h-1zM125 354h1v1h-1zM126 350h1v1h-1zM126 351h1v1h-1zM126 355h1v1h-1zM126 356h1v1h-1zM127 349h1v1h-1zM127 357h1v1h-1zM123 349h1v9h-1zM127 349h1v9h-1z" fill="#0c0c78"/>
<rect x="128" y="353" width="134" height="1" fill="#0c0c78"/>
<path d="M128 353h1v1h-1zM133 353h1v1h-1zM138 353h1v1h-1zM143 353h1v1h-1zM148 353h1v1h-1zM153 353h1v1h-1zM158 353h1v1h-1zM163 353h1v1h-1zM168 353h1v1h-1zM173 353h1v1h-1zM178 353h1v1h-1zM183 353h1v1h-1zM188 353h1v1h-1zM193 353h1v1h-1zM198 353h1v1h-1zM203 353h1v1h-1zM208 353h1v1h-1zM213 353h1v1h-1zM218 353h1v1h-1zM223 353h1v1h-1zM228 353h1v1h-1zM233 353h1v1h-1zM238 353h1v1h-1zM243 353h1v1h-1zM248 353h1v1h-1zM253 353h1v1h-1zM258 353h1v1h-1z" fill="#4c4c9e"/>
<path d="M129 352h1v1h-1zM129 354h1v1h-1zM134 352h1v1h-1zM134 354h1v1h-1zM139 352h1v1h-1zM139 354h1v1h-1zM144 352h1v1h-1zM144 354h1v1h-1zM149 352h1v1h-1zM149 354h1v1h-1zM154 352h1v1h-1zM154 354h1v1h-1zM159 352h1v1h-1zM159 354h1v1h-1zM164 352h1v1h-1zM164 354h1v1h-1zM169 352h1v1h-1zM169 354h1v1h-1zM174 352h1v1h-1zM174 354h1v1h-1zM179 352h1v1h-1zM179 354h1v1h-1zM184 352h1v1h-1zM184 354h1v1h-1zM189 352h1v1h-1zM189 354h1v1h-1zM194 352h1v1h-1zM194 354h1v1h-1zM199 352h1v1h-1zM199 354h1v1h-1zM204 352h1v1h-1zM204 354h1v1h-1zM209 352h1v1h-1zM209 354h1v1h-1zM214 352h1v1h-1zM214 354h1v1h-1zM219 352h1v1h-1zM219 354h1v1h-1zM224 352h1v1h-1zM224 354h1v1h-1zM229 352h1v1h-1zM229 354h1v1h-1zM234 352h1v1h-1zM234 354h1v1h-1zM239 352h1v1h-1zM239 354h1v1h-1zM244 352h1v1h-1zM244 354h1v1h-1zM249 352h1v1h-1zM249 354h1v1h-1zM254 352h1v1h-1zM254 354h1v1h-1zM259 352h1v1h-1zM259 354h1v1h-1z" fill="#9494ca"/>
<path d="M130 351h1v1h-1zM130 355h1v1h-1zM135 351h1v1h-1zM135 355h1v1h-1zM140 351h1v1h-1zM140 355h1v1h-1zM145 351h1v1h-1zM145 355h1v1h-1zM150 351h1v1h-1zM150 355h1v1h-1zM155 351h1v1h-1zM155 355h1v1h-1zM160 351h1v1h-1zM160 355h1v1h-1zM165 351h1v1h-1zM165 355h1v1h-1zM170 351h1v1h-1zM170 355h1v1h-1zM175 351h1v1h-1zM175 355h1v1h-1zM180 351h1v1h-1zM180 355h1v1h-1zM185 351h1v1h-1zM185 355h1v1h-1zM190 351h1v1h-1zM190 355h1v1h-1zM195 351h1v1h-1zM195 355h1v1h-1zM200 351h1v1h-1zM200 355h1v1h-1zM205 351h1v1h-1zM205 355h1v1h-1zM210 351h1v1h-1zM210 355h1v1h-1zM215 351h1v1h-1zM215 355h1v1h-1zM220 351h1v1h-1zM220 355h1v1h-1zM225 351h1v1h-1zM225 355h1v1h-1zM230 351h1v1h-1zM230 355h1v1h-1zM235 351h1v1h-1zM235 355h1v1h-1zM240 351h1v1h-1zM240 355h1v1h-1zM245 351h1v1h-1zM245 355h1v1h-1zM250 351h1v1h-1zM250 355h1v1h-1zM255 351h1v1h-1zM255 355h1v1h-1zM260 351h1v1h-1zM260 355h1v1h-1z" fill="#5d5da8"/>
<rect x="147" y="349" width="2" height="9" fill="#0c0c78"/>
<rect x="173" y="349" width="1" height="9" fill="#0c0c78"/>
<rect x="200" y="349" width="2" height="9" fill="#0c0c78"/>
<rect x="259" y="349" width="1" height="9" fill="#0c0c78"/>
<rect x="261" y="349" width="1" height="9" fill="#0c0c78"/>
<path d="M118 363h1v1h-1zM119 362h1v1h-1zM119 364h1v1h-1zM120 361h1v1h-1zM120 365h1v1h-1zM121 361h1v1h-1zM121 365h1v1h-1zM122 360h1v1h-1zM122 366h1v1h-1zM123 359h1v1h-1zM123 367h1v1h-1zM124 363h1v1h-1zM125 362h1v1h-1zM125 364h1v1h-1zM126 360h1v1h-1zM126 361h1v1h-1zM126 365h1v1h-1zM126 366h1v1h-1zM127 359h1v1h-1zM127 367h1v1h-1zM123 359h1v9h-1zM127 359h1v9h-1z" fill="#0c0c78"/>
<rect x="128" y="363" width="132" height="1" fill="#0c0c78"/>
<path d="M128 363h1v1h-1zM133 363h1v1h-1zM138 363h1v1h-1zM143 363h1v1h-1zM148 363h1v1h-1zM153 363h1v1h-1zM158 363h1v1h-1zM163 363h1v1h-1zM168 363h1v1h-1zM173 363h1v1h-1zM178 363h1v1h-1zM183 363h1v1h-1zM188 363h1v1h-1zM193 363h1v1h-1zM198 363h1v1h-1zM203 363h1v1h-1zM208 363h1v1h-1zM213 363h1v1h-1zM218 363h1v1h-1zM223 363h1v1h-1zM228 363h1v1h-1zM233 363h1v1h-1zM238 363h1v1h-1zM243 363h1v1h-1zM248 363h1v1h-1zM253 363h1v1h-1z" fill="#4c4c9e"/>
<path d="M129 362h1v1h-1zM129 364h1v1h-1zM134 362h1v1h-1zM134 364h1v1h-1zM139 362h1v1h-1zM139 364h1v1h-1zM144 362h1v1h-1zM144 364h1v1h-1zM149 362h1v1h-1zM149 364h1v1h-1zM154 362h1v1h-1zM154 364h1v1h-1zM159 362h1v1h-1zM159 364h1v1h-1zM164 362h1v1h-1zM164 364h1v1h-1zM169 362h1v1h-1zM169 364h1v1h-1zM174 362h1v1h-1zM174 364h1v1h-1zM179 362h1v1h-1zM179 364h1v1h-1zM184 362h1v1h-1zM184 364h1v1h-1zM189 362h1v1h-1zM189 364h1v1h-1zM194 362h1v1h-1zM194 364h1v1h-1zM199 362h1v1h-1zM199 364h1v1h-1zM204 362h1v1h-1zM204 364h1v1h-1zM209 362h1v1h-1zM209 364h1v1h-1zM214 362h1v1h-1zM214 364h1v1h-1zM219 362h1v1h-1zM219 364h1v1h-1zM224 362h1v1h-1zM224 364h1v1h-1zM229 362h1v1h-1zM229 364h1v1h-1zM234 362h1v1h-1zM234 364h1v1h-1zM239 362h1v1h-1zM239 364h1v1h-1zM244 362h1v1h-1zM244 364h1v1h-1zM249 362h1v1h-1zM249 364h1v1h-1zM254 362h1v1h-1zM254 364h1v1h-1z" fill="#9494ca"/>
<path d="M130 361h1v1h-1zM130 365h1v1h-1zM135 361h1v1h-1zM135 365h1v1h-1zM140 361h1v1h-1zM140 365h1v1h-1zM145 361h1v1h-1zM145 365h1v1h-1zM150 361h1v1h-1zM150 365h1v1h-1zM155 361h1v1h-1zM155 365h1v1h-1zM160 361h1v1h-1zM160 365h1v1h-1zM165 361h1v1h-1zM165 365h1v1h-1zM170 361h1v1h-1zM170 365h1v1h-1zM175 361h1v1h-1zM175 365h1v1h-1zM180 361h1v1h-1zM180 365h1v1h-1zM185 361h1v1h-1zM185 365h1v1h-1zM190 361h1v1h-1zM190 365h1v1h-1zM195 361h1v1h-1zM195 365h1v1h-1zM200 361h1v1h-1zM200 365h1v1h-1zM205 361h1v1h-1zM205 365h1v1h-1zM210 361h1v1h-1zM210 365h1v1h-1zM215 361h1v1h-1zM215 365h1v1h-1zM220 361h1v1h-1zM220 365h1v1h-1zM225 361h1v1h-1zM225 365h1v1h-1zM230 361h1v1h-1zM230 365h1v1h-1zM235 361h1v1h-1zM235 365h1v1h-1zM240 361h1v1h-1zM240 365h1v1h-1zM245 361h1v1h-1zM245 365h1v1h-1zM250 361h1v1h-1zM250 365h1v1h-1zM255 361h1v1h-1zM255 365h1v1h-1z" fill="#5d5da8"/>
<rect x="147" y="359" width="2" height="9" fill="#0c0c78"/>
<rect x="173" y="359" width="1" height="9" fill="#0c0c78"/>
<rect x="200" y="359" width="2" height="9" fill="#0c0c78"/>
<rect x="259" y="359" width="2" height="9" fill="#0c0c78"/>
<path d="M118 373h1v1h-1zM119 372h1v1h-1zM119 374h1v1h-1zM120 371h1v1h-1zM120 375h1v1h-1zM121 371h1v1h-1zM121 375h1v1h-1zM122 370h1v1h-1zM122 376h1v1h-1zM123 369h1v1h-1zM123 377h1v1h-1zM124 373h1v1h-1zM125 372h1v1h-1zM125 374h1v1h-1zM126 370h1v1h-1zM126 371h1v1h-1zM126 375h1v1h-1zM126 376h1v1h-1zM127 369h1v1h-1zM127 377h1v1h-1zM123 369h1v9h-1zM127 369h1v9h-1z" fill="#0c0c78"/>
<rect x="128" y="373" width="96" height="1" fill="#0c0c78"/>
<path d="M128 373h1v1h-1zM133 373h1v1h-1zM138 373h1v1h-1zM143 373h1v1h-1zM148 373h1v1h-1zM153 373h1v1h-1zM158 373h1v1h-1zM163 373h1v1h-1zM168 373h1v1h-1zM173 373h1v1h-1zM178 373h1v1h-1zM183 373h1v1h-1zM188 373h1v1h-1zM193 373h1v1h-1zM198 373h1v1h-1zM203 373h1v1h-1zM208 373h1v1h-1zM213 373h1v1h-1zM218 373h1v1h-1z" fill="#4c4c9e"/>
<path d="M129 372h1v1h-1zM129 374h1v1h-1zM134 372h1v1h-1zM134 374h1v1h-1zM139 372h1v1h-1zM139 374h1v1h-1zM144 372h1v1h-1zM144 374h1v1h-1zM149 372h1v1h-1zM149 374h1v1h-1zM154 372h1v1h-1zM154 374h1v1h-1zM159 372h1v1h-1zM159 374h1v1h-1zM164 372h1v1h-1zM164 374h1v1h-1zM169 372h1v1h-1zM169 374h1v1h-1zM174 372h1v1h-1zM174 374h1v1h-1zM179 372h1v1h-1zM179 374h1v1h-1zM184 372h1v1h-1zM184 374h1v1h-1zM189 372h1v1h-1zM189 374h1v1h-1zM194 372h1v1h-1zM194 374h1v1h-1zM199 372h1v1h-1zM199 374h1v1h-1zM204 372h1v1h-1zM204 374h1v1h-1zM209 372h1v1h-1zM209 374h1v1h-1zM214 372h1v1h-1zM214 374h1v1h-1zM219 372h1v1h-1zM219 374h1v1h-1z" fill="#9494ca"/>
<path d="M130 371h1v1h-1zM130 375h1v1h-1zM135 371h1v1h-1zM135 375h1v1h-1zM140 371h1v1h-1zM140 375h1v1h-1zM145 371h1v1h-1zM145 375h1v1h-1zM150 371h1v1h-1zM150 375h1v1h-1zM155 371h1v1h-1zM155 375h1v1h-1zM160 371h1v1h-1zM160 375h1v1h-1zM165 371h1v1h-1zM165 375h1v1h-1zM170 371h1v1h-1zM170 375h1v1h-1zM175 371h1v1h-1zM175 375h1v1h-1zM180 371h1v1h-1zM180 375h1v1h-1zM185 371h1v1h-1zM185 375h1v1h-1zM190 371h1v1h-1zM190 375h1v1h-1zM195 371h1v1h-1zM195 375h1v1h-1zM200 371h1v1h-1zM200 375h1v1h-1zM205 371h1v1h-1zM205 375h1v1h-1zM210 371h1v1h-1zM210 375h1v1h-1zM215 371h1v1h-1zM215 375h1v1h-1zM220 371h1v1h-1zM220 375h1v1h-1z" fill="#5d5da8"/>
<rect x="147" y="369" width="2" height="9" fill="#0c0c78"/>
<rect x="173" y="369" width="1" height="9" fill="#0c0c78"/>
<rect x="200" y="369" width="2" height="9" fill="#0c0c78"/>
<rect x="224" y="369" width="1" height="9" fill="#0c0c78"/>
<path d="M118 383h1v1h-1zM119 382h1v1h-1zM119 384h1v1h-1zM120 381h1v1h-1zM120 385h1v1h-1zM121 381h1v1h-1zM121 385h1v1h-1zM122 380h1v1h-1zM122 386h1v1h-1zM123 379h1v1h-1zM123 387h1v1h-1zM124 383h1v1h-1zM125 382h1v1h-1zM125 384h1v1h-1zM126 380h1v1h-1zM126 381h1v1h-1zM126 385h1v1h-1zM126 386h1v1h-1zM127 379h1v1h-1zM127 387h1v1h-1zM123 379h1v9h-1zM127 379h1v9h-1z" fill="#0c0c78"/>
<rect x="128" y="383" width="0" height="1" fill="#0c0c78"/>
<rect x="124" y="380" width="4" height="1" fill="#0c0c78"/>
<rect x="124" y="386" width="4" height="1" fill="#0c0c78"/>
<path d="M118 393h1v1h-1zM119 392h1v1h-1zM119 394h1v1h-1zM120 391h1v1h-1zM120 395h1v1h-1zM121 391h1v1h-1zM121 395h1v1h-1zM122 390h1v1h-1zM122 396h1v1h-1zM123 389h1v1h-1zM123 397h1v1h-1zM124 393h1v1h-1zM125 392h1v1h-1zM125 394h1v1h-1zM126 390h1v1h-1zM126 391h1v1h-1zM126 395h1v1h-1zM126 396h1v1h-1zM127 389h1v1h-1zM127 397h1v1h-1zM123 389h1v9h-1zM127 389h1v9h-1z" fill="#0c0c78"/>
<rect x="128" y="393" width="46" height="1" fill="#0c0c78"/>
<path d="M128 393h1v1h-1zM133 393h1v1h-1zM138 393h1v1h-1zM143 393h1v1h-1zM148 393h1v1h-1zM153 393h1v1h-1zM158 393h1v1h-1zM163 393h1v1h-1zM168 393h1v1h-1z" fill="#4c4c9e"/>
<path d="M129 392h1v1h-1zM129 394h1v1h-1zM134 392h1v1h-1zM134 394h1v1h-1zM139 392h1v1h-1zM139 394h1v1h-1zM144 392h1v1h-1zM144 394h1v1h-1zM149 392h1v1h-1zM149 394h1v1h-1zM154 392h1v1h-1zM154 394h1v1h-1zM159 392h1v1h-1zM159 394h1v1h-1zM164 392h1v1h-1zM164 394h1v1h-1zM169 392h1v1h-1zM169 394h1v1h-1z" fill="#9494ca"/>
<path d="M130 391h1v1h-1zM130 395h1v1h-1zM135 391h1v1h-1zM135 395h1v1h-1zM140 391h1v1h-1zM140 395h1v1h-1zM145 391h1v1h-1zM145 395h1v1h-1zM150 391h1v1h-1zM150 395h1v1h-1zM155 391h1v1h-1zM155 395h1v1h-1zM160 391h1v1h-1zM160 395h1v1h-1zM165 391h1v1h-1zM165 395h1v1h-1zM170 391h1v1h-1zM170 395h1v1h-1z" fill="#5d5da8"/>
<rect x="147" y="389" width="2" height="9" fill="#0c0c78"/>
<rect x="173" y="389" width="1" height="9" fill="#0c0c78"/>
<rect x="209" y="321" width="1" height="5" fill="#5d5da5"/>
<rect x="496" y="283" width="26" height="1" fill="#0c0c78"/>
<rect x="496" y="281" width="4" height="5" fill="#0c0c78"/>
<rect x="514" y="281" width="1" height="5" fill="#0c0c78"/>
<rect x="521" y="281" width="1" height="5" fill="#0c0c78"/>
<rect x="506" y="281" width="1" height="5" fill="#0c0c78"/>
<rect x="518" y="281" width="1" height="5" fill="#0c0c78"/>
<path d="M502 283h1v1h-1z" fill="#4c4c9e"/>
<path d="M503 282h1v1h-1zM503 284h1v1h-1z" fill="#9494ca"/>
<path d="M504 281h1v1h-1zM504 285h1v1h-1z" fill="#5d5da8"/>
<path d="M508 283h1v1h-1z" fill="#4c4c9e"/>
<path d="M509 282h1v1h-1zM509 284h1v1h-1z" fill="#9494ca"/>
<path d="M510 281h1v1h-1zM510 285h1v1h-1z" fill="#5d5da8"/>
<rect x="496" y="293" width="26" height="1" fill="#0c0c78"/>
<rect x="496" y="291" width="4" height="5" fill="#0c0c78"/>
<rect x="514" y="291" width="1" height="5" fill="#0c0c78"/>
<rect x="521" y="291" width="1" height="5" fill="#0c0c78"/>
<rect x="504" y="291" width="3" height="5" fill="#0c0c78"/>
<path d="M501 293h1v1h-1z" fill="#4c4c9e"/>
<path d="M502 292h1v1h-1zM502 294h1v1h-1z" fill="#9494ca"/>
<path d="M503 291h1v1h-1zM503 295h1v1h-1z" fill="#5d5da8"/>
<path d="M508 293h1v1h-1z" fill="#4c4c9e"/>
<path d="M509 292h1v1h-1zM509 294h1v1h-1z" fill="#9494ca"/>
<path d="M510 291h1v1h-1zM510 295h1v1h-1z" fill="#5d5da8"/>
<path d="M517 293h1v1h-1z" fill="#4c4c9e"/>
<path d="M518 292h1v1h-1zM518 294h1v1h-1z" fill="#9494ca"/>
<path d="M519 291h1v1h-1zM519 295h1v1h-1z" fill="#5d5da8"/>
<path d="M118 442v6h1v-6zM119 443v5h1v-5zM120 446v2h1v-2zM121 447v1h1v-1zM122 439v9h1v-9zM123 431v17h1v-17zM124 430v18h1v-18zM125 441v7h1v-7zM126 428v20h1v-20zM127 440v8h1v-8zM128 443v5h1v-5zM129 433v15h1v-15zM130 430v18h1v-18zM131 442v6h1v-6zM132 431v17h1v-17zM133 427v21h1v-21zM134 422v26h1v-26zM135 443v5h1v-5zM136 445v3h1v-3zM137 441v7h1v-7zM138 446v2h1v-2zM139 442v6h1v-6zM140 435v13h1v-13zM141 425v23h1v-23zM142 437v11h1v-11zM143 444v4h1v-4zM144 445v3h1v-3zM145 447v1h1v-1zM146 441v7h1v-7zM147 433v15h1v-15zM148 432v16h1v-16zM149 427v21h1v-21zM150 436v12h1v-12zM151 446v2h1v-2zM152 447v1h1v-1zM153 445v3h1v-3zM154 445v3h1v-3zM155 447v1h1v-1zM156 445v3h1v-3zM157 444v4h1v-4zM158 446v2h1v-2zM159 447v1h1v-1zM160 447v1h1v-1zM161 447v1h1v-1zM162 447v1h1v-1zM163 443v5h1v-5zM164 445v3h1v-3zM165 439v9h1v-9zM166 445v3h1v-3zM167 446v2h1v-2zM168 438v10h1v-10zM169 444v4h1v-4zM170 446v2h1v-2zM171 440v8h1v-8zM172 424v24h1v-24zM173 436v12h1v-12zM174 422v26h1v-26zM175 441v7h1v-7zM176 443v5h1v-5zM177 447v1h1v-1zM178 442v6h1v-6zM179 438v10h1v-10zM180 433v15h1v-15zM181 427v21h1v-21zM182 429v19h1v-19zM183 429v19h1v-19zM184 446v2h1v-2zM185 446v2h1v-2zM186 446v2h1v-2zM187 444v4h1v-4zM188 445v3h1v-3zM189 446v2h1v-2zM190 438v10h1v-10zM191 438v10h1v-10zM192 445v3h1v-3zM193 444v4h1v-4zM194 438v10h1v-10zM195 445v3h1v-3zM196 446v2h1v-2zM197 438v10h1v-10zM198 441v7h1v-7zM199 438v10h1v-10zM200 441v7h1v-7zM201 439v9h1v-9zM202 438v10h1v-10zM203 447v1h1v-1zM204 440v8h1v-8zM205 444v4h1v-4zM206 434v14h1v-14zM207 446v2h1v-2zM208 438v10h1v-10zM209 442v6h1v-6zM210 446v2h1v-2zM211 444v4h1v-4zM212 447v1h1v-1zM213 439v9h1v-9zM214 433v15h1v-15zM215 441v7h1v-7zM216 435v13h1v-13zM217 434v14h1v-14zM218 438v10h1v-10zM219 432v16h1v-16zM220 441v7h1v-7zM221 439v9h1v-9zM222 444v4h1v-4zM223 440v8h1v-8zM224 442v6h1v-6zM225 441v7h1v-7zM226 447v1h1v-1zM227 446v2h1v-2zM228 436v12h1v-12zM229 445v3h1v-3zM230 442v6h1v-6zM231 446v2h1v-2zM232 439v9h1v-9zM233 443v5h1v-5zM234 441v7h1v-7zM235 440v8h1v-8zM236 444v4h1v-4zM237 445v3h1v-3zM238 445v3h1v-3zM239 437v11h1v-11zM240 443v5h1v-5zM241 441v7h1v-7zM242 442v6h1v-6zM243 440v8h1v-8zM244 444v4h1v-4zM245 435v13h1v-13zM246 445v3h1v-3zM247 436v12h1v-12zM248 446v2h1v-2zM249 447v1h1v-1zM250 445v3h1v-3zM251 446v2h1v-2zM252 446v2h1v-2zM253 447v1h1v-1zM254 447v1h1v-1zM255 436v12h1v-12zM256 427v21h1v-21zM257 438v10h1v-10zM258 439v9h1v-9zM259 425v23h1v-23zM260 422v26h1v-26zM261 429v19h1v-19zM262 445v3h1v-3zM263 446v2h1v-2zM264 445v3h1v-3zM265 446v2h1v-2zM266 446v2h1v-2zM267 441v7h1v-7zM268 446v2h1v-2zM269 438v10h1v-10zM270 445v3h1v-3zM271 445v3h1v-3zM272 443v5h1v-5zM273 436v12h1v-12zM274 436v12h1v-12zM275 442v6h1v-6zM276 446v2h1v-2zM277 438v10h1v-10zM278 440v8h1v-8zM279 446v2h1v-2zM280 439v9h1v-9zM281 446v2h1v-2zM282 445v3h1v-3zM283 439v9h1v-9zM284 446v2h1v-2zM285 444v4h1v-4zM286 438v10h1v-10zM287 444v4h1v-4zM288 444v4h1v-4zM289 442v6h1v-6zM290 447v1h1v-1zM291 445v3h1v-3zM292 439v9h1v-9zM293 445v3h1v-3zM294 446v2h1v-2zM295 446v2h1v-2zM296 445v3h1v-3zM297 444v4h1v-4zM298 446v2h1v-2zM299 446v2h1v-2zM300 435v13h1v-13zM301 443v5h1v-5zM302 440v8h1v-8zM303 446v2h1v-2zM304 446v2h1v-2zM305 446v2h1v-2zM306 439v9h1v-9zM307 446v2h1v-2zM308 445v3h1v-3zM309 446v2h1v-2zM310 435v13h1v-13zM311 446v2h1v-2zM312 446v2h1v-2zM313 439v9h1v-9zM314 442v6h1v-6zM315 444v4h1v-4zM316 440v8h1v-8zM317 432v16h1v-16zM318 443v5h1v-5zM319 440v8h1v-8zM320 442v6h1v-6zM321 438v10h1v-10zM322 439v9h1v-9zM323 440v8h1v-8zM324 444v4h1v-4zM325 444v4h1v-4zM326 445v3h1v-3zM327 447v1h1v-1zM328 444v4h1v-4zM329 445v3h1v-3zM330 438v10h1v-10zM331 443v5h1v-5zM332 447v1h1v-1zM333 447v1h1v-1zM334 432v16h1v-16zM335 445v3h1v-3zM336 443v5h1v-5zM337 445v3h1v-3zM338 446v2h1v-2zM339 446v2h1v-2zM340 447v1h1v-1zM341 446v2h1v-2zM342 447v1h1v-1zM343 446v2h1v-2zM344 431v17h1v-17zM345 446v2h1v-2zM346 445v3h1v-3zM347 445v3h1v-3zM348 446v2h1v-2zM349 447v1h1v-1zM350 444v4h1v-4zM351 446v2h1v-2zM352 444v4h1v-4zM353 427v21h1v-21zM354 442v6h1v-6zM355 443v5h1v-5zM356 446v2h1v-2zM357 447v1h1v-1zM358 435v13h1v-13zM359 446v2h1v-2zM360 439v9h1v-9zM361 438v10h1v-10zM362 441v7h1v-7zM363 444v4h1v-4zM364 443v5h1v-5zM365 446v2h1v-2zM366 446v2h1v-2zM367 437v11h1v-11zM368 444v4h1v-4zM369 447v1h1v-1zM370 441v7h1v-7zM371 439v9h1v-9zM372 445v3h1v-3zM373 444v4h1v-4zM374 445v3h1v-3zM375 438v10h1v-10zM376 446v2h1v-2zM377 446v2h1v-2zM378 434v14h1v-14zM379 438v10h1v-10zM380 443v5h1v-5zM381 447v1h1v-1zM382 447v1h1v-1zM383 441v7h1v-7zM384 446v2h1v-2zM385 436v12h1v-12zM386 444v4h1v-4zM387 446v2h1v-2zM388 435v13h1v-13zM389 429v19h1v-19zM390 439v9h1v-9zM391 422v26h1v-26zM392 439v9h1v-9zM393 443v5h1v-5zM394 426v22h1v-22zM395 438v10h1v-10zM396 443v5h1v-5zM397 439v9h1v-9zM398 445v3h1v-3zM399 446v2h1v-2zM400 446v2h1v-2zM401 445v3h1v-3zM402 444v4h1v-4zM403 441v7h1v-7zM404 441v7h1v-7zM405 441v7h1v-7zM406 446v2h1v-2zM407 441v7h1v-7zM408 444v4h1v-4zM409 431v17h1v-17zM410 440v8h1v-8zM411 445v3h1v-3zM412 437v11h1v-11zM413 427v21h1v-21zM414 447v1h1v-1zM415 444v4h1v-4zM416 447v1h1v-1zM417 441v7h1v-7zM418 447v1h1v-1zM419 445v3h1v-3zM420 446v2h1v-2zM421 441v7h1v-7zM422 436v12h1v-12zM423 445v3h1v-3zM424 446v2h1v-2zM425 432v16h1v-16zM426 446v2h1v-2zM427 444v4h1v-4zM428 445v3h1v-3zM429 442v6h1v-6zM430 445v3h1v-3zM431 445v3h1v-3zM432 438v10h1v-10zM433 442v6h1v-6zM434 442v6h1v-6zM435 443v5h1v-5zM436 445v3h1v-3zM437 442v6h1v-6zM438 447v1h1v-1zM439 441v7h1v-7zM440 443v5h1v-5zM441 443v5h1v-5zM442 434v14h1v-14zM443 447v1h1v-1zM444 445v3h1v-3zM445 441v7h1v-7zM446 446v2h1v-2zM447 445v3h1v-3zM448 445v3h1v-3zM449 445v3h1v-3zM450 442v6h1v-6zM451 447v1h1v-1zM452 446v2h1v-2zM453 446v2h1v-2zM454 446v2h1v-2zM455 435v13h1v-13zM456 446v2h1v-2zM457 446v2h1v-2zM458 435v13h1v-13zM459 446v2h1v-2zM460 446v2h1v-2zM461 440v8h1v-8zM462 439v9h1v-9zM463 440v8h1v-8zM464 443v5h1v-5zM465 444v4h1v-4zM466 446v2h1v-2zM467 445v3h1v-3zM468 440v8h1v-8zM469 445v3h1v-3zM470 441v7h1v-7zM471 446v2h1v-2zM472 443v5h1v-5zM473 439v9h1v-9zM474 429v19h1v-19zM475 436v12h1v-12zM476 446v2h1v-2zM477 434v14h1v-14zM478 444v4h1v-4zM479 446v2h1v-2zM480 442v6h1v-6zM481 447v1h1v-1zM482 446v2h1v-2zM483 444v4h1v-4zM484 441v7h1v-7zM485 445v3h1v-3zM486 440v8h1v-8zM487 444v4h1v-4zM488 432v16h1v-16zM489 441v7h1v-7zM490 443v5h1v-5zM491 444v4h1v-4zM492 445v3h1v-3zM493 447v1h1v-1zM494 447v1h1v-1zM495 436v12h1v-12zM496 441v7h1v-7zM497 440v8h1v-8zM498 447v1h1v-1zM499 442v6h1v-6zM500 447v1h1v-1zM501 446v2h1v-2zM502 433v15h1v-15zM503 446v2h1v-2zM504 439v9h1v-9zM505 445v3h1v-3zM506 446v2h1v-2zM507 432v16h1v-16zM508 444v4h1v-4zM509 430v18h1v-18zM510 446v2h1v-2zM511 444v4h1v-4zM512 431v17h1v-17zM513 441v7h1v-7zM514 446v2h1v-2zM515 445v3h1v-3zM516 443v5h1v-5zM517 444v4h1v-4zM518 443v5h1v-5zM519 442v6h1v-6zM520 447v1h1v-1zM521 438v10h1v-10zM522 447v1h1v-1zM523 446v2h1v-2zM524 445v3h1v-3zM525 446v2h1v-2zM526 435v13h1v-13zM527 439v9h1v-9zM528 447v1h1v-1zM529 434v14h1v-14zM530 440v8h1v-8zM531 447v1h1v-1zM532 442v6h1v-6zM533 430v18h1v-18zM534 446v2h1v-2zM535 446v2h1v-2zM536 441v7h1v-7zM537 446v2h1v-2zM538 446v2h1v-2zM539 442v6h1v-6zM540 422v26h1v-26zM541 445v3h1v-3zM542 446v2h1v-2zM543 446v2h1v-2zM544 440v8h1v-8zM545 446v2h1v-2zM546 442v6h1v-6zM547 445v3h1v-3zM548 445v3h1v-3zM549 433v15h1v-15zM550 438v10h1v-10zM551 442v6h1v-6zM552 440v8h1v-8zM553 445v3h1v-3zM554 446v2h1v-2zM555 446v2h1v-2zM556 447v1h1v-1zM557 447v1h1v-1zM558 445v3h1v-3zM559 437v11h1v-11zM560 445v3h1v-3zM561 442v6h1v-6zM562 444v4h1v-4zM563 442v6h1v-6zM564 443v5h1v-5zM565 444v4h1v-4zM566 447v1h1v-1zM567 447v1h1v-1zM568 442v6h1v-6zM569 447v1h1v-1zM570 443v5h1v-5zM571 440v8h1v-8zM572 441v7h1v-7zM573 443v5h1v-5zM574 444v4h1v-4zM575 441v7h1v-7zM576 445v3h1v-3zM577 442v6h1v-6zM578 446v2h1v-2zM579 446v2h1v-2zM580 443v5h1v-5zM581 446v2h1v-2zM582 443v5h1v-5zM583 440v8h1v-8zM584 445v3h1v-3zM585 445v3h1v-3zM586 442v6h1v-6zM587 444v4h1v-4zM588 445v3h1v-3zM589 440v8h1v-8zM590 446v2h1v-2zM591 446v2h1v-2zM592 441v7h1v-7zM593 446v2h1v-2zM594 424v24h1v-24zM595 445v3h1v-3zM596 440v8h1v-8zM597 434v14h1v-14zM598 441v7h1v-7zM599 441v7h1v-7zM600 441v7h1v-7zM601 446v2h1v-2zM602 439v9h1v-9zM603 446v2h1v-2zM604 446v2h1v-2zM605 440v8h1v-8zM606 446v2h1v-2zM607 444v4h1v-4zM608 442v6h1v-6zM609 438v10h1v-10zM610 445v3h1v-3zM611 444v4h1v-4zM612 444v4h1v-4zM613 444v4h1v-4zM614 439v9h1v-9zM615 446v2h1v-2zM616 447v1h1v-1zM617 447v1h1v-1zM618 446v2h1v-2z" fill="#227622"/>
<rect x="118" y="458" width="156" height="8" fill="#000000"/>
<rect x="276" y="458" width="41" height="8" fill="#000000"/>
<rect x="318" y="458" width="4" height="8" fill="#000000"/>
<rect x="324" y="458" width="37" height="8" fill="#000000"/>
<rect x="363" y="458" width="41" height="8" fill="#000000"/>
<rect x="405" y="458" width="57" height="8" fill="#000000"/>
<rect x="464" y="458" width="66" height="8" fill="#000000"/>
<rect x="531" y="458" width="88" height="8" fill="#000000"/>
<rect x="153" y="459" width="15" height="6" fill="#222222"/>
<rect x="182" y="459" width="14" height="6" fill="#222222"/>
<rect x="210" y="459" width="15" height="6" fill="#222222"/>
<rect x="239" y="459" width="29" height="6" fill="#222222"/>
<rect x="276" y="459" width="14" height="6" fill="#222222"/>
<rect x="297" y="459" width="15" height="6" fill="#222222"/>
<rect x="318" y="459" width="4" height="6" fill="#111111"/>
<rect x="324" y="459" width="28" height="6" fill="#222222"/>
<rect x="363" y="459" width="28" height="6" fill="#222222"/>
<rect x="420" y="459" width="26" height="6" fill="#222222"/>
<rect x="480" y="459" width="14" height="6" fill="#222222"/>
<rect x="531" y="459" width="56" height="6" fill="#222222"/>
<rect x="118" y="467" width="8" height="8" fill="#6e6e6e"/>
<rect x="126" y="467" width="14" height="8" fill="#555555"/>
<rect x="140" y="467" width="14" height="8" fill="#777777"/>
<rect x="155" y="467" width="7" height="8" fill="#999999"/>
<rect x="162" y="467" width="64" height="8" fill="#777777"/>
<rect x="227" y="467" width="14" height="8" fill="#777777"/>
<rect x="241" y="467" width="15" height="8" fill="#999999"/>
<rect x="256" y="467" width="8" height="8" fill="#555555"/>
<rect x="266" y="467" width="3" height="8" fill="#999999"/>
<rect x="269" y="467" width="3" height="8" fill="#555555"/>
<rect x="277" y="467" width="8" height="8" fill="#888888"/>
<rect x="288" y="467" width="2" height="8" fill="#444444"/>
<rect x="292" y="467" width="6" height="8" fill="#888888"/>
<rect x="300" y="467" width="2" height="8" fill="#444444"/>
<rect x="304" y="467" width="12" height="8" fill="#888888"/>
<rect x="320" y="467" width="2" height="8" fill="#444444"/>
<rect x="324" y="467" width="6" height="8" fill="#888888"/>
<rect x="330" y="467" width="3" height="8" fill="#666666"/>
<rect x="333" y="467" width="7" height="8" fill="#888888"/>
<rect x="340" y="467" width="2" height="8" fill="#444444"/>
<rect x="342" y="467" width="14" height="8" fill="#999999"/>
<rect x="356" y="467" width="4" height="8" fill="#666666"/>
<rect x="363" y="467" width="3" height="8" fill="#888888"/>
<rect x="366" y="467" width="2" height="8" fill="#333333"/>
<rect x="370" y="467" width="3" height="8" fill="#666666"/>
<rect x="375" y="467" width="14" height="8" fill="#888888"/>
<rect x="389" y="467" width="11" height="8" fill="#666666"/>
<rect x="400" y="467" width="4" height="8" fill="#aaaaaa"/>
<rect x="405" y="467" width="15" height="8" fill="#777777"/>
<rect x="421" y="467" width="6" height="8" fill="#777777"/>
<rect x="427" y="467" width="2" height="8" fill="#555555"/>
<rect x="432" y="467" width="1" height="8" fill="#333333"/>
<rect x="437" y="467" width="2" height="8" fill="#555555"/>
<rect x="439" y="467" width="6" height="8" fill="#777777"/>
<rect x="447" y="467" width="15" height="8" fill="#999999"/>
<rect x="464" y="467" width="6" height="8" fill="#999999"/>
<rect x="470" y="467" width="2" height="8" fill="#555555"/>
<rect x="473" y="467" width="8" height="8" fill="#777777"/>
<rect x="482" y="467" width="4" height="8" fill="#aaaaaa"/>
<rect x="486" y="467" width="5" height="8" fill="#777777"/>
<rect x="492" y="467" width="14" height="8" fill="#888888"/>
<rect x="506" y="467" width="8" height="8" fill="#555555"/>
<rect x="515" y="467" width="4" height="8" fill="#777777"/>
<rect x="520" y="467" width="4" height="8" fill="#666666"/>
<rect x="525" y="467" width="5" height="8" fill="#555555"/>
<rect x="531" y="467" width="4" height="8" fill="#666666"/>
<rect x="535" y="467" width="4" height="8" fill="#aaaaaa"/>
<rect x="539" y="467" width="3" height="8" fill="#333333"/>
<rect x="545" y="467" width="10" height="8" fill="#999999"/>
<rect x="555" y="467" width="5" height="8" fill="#555555"/>
<rect x="560" y="467" width="12" height="8" fill="#777777"/>
<rect x="572" y="467" width="9" height="8" fill="#999999"/>
<rect x="582" y="467" width="2" height="8" fill="#333333"/>
<rect x="584" y="467" width="8" height="8" fill="#999999"/>
<rect x="592" y="467" width="23" height="8" fill="#777777"/>
<rect x="615" y="467" width="4" height="8" fill="#999999"/>
<rect x="118" y="476" width="23" height="8" fill="#3a3a3a"/>
<rect x="141" y="476" width="28" height="8" fill="#555555"/>
<rect x="169" y="476" width="15" height="8" fill="#3a3a3a"/>
<rect x="184" y="476" width="28" height="8" fill="#555555"/>
<rect x="212" y="476" width="15" height="8" fill="#3a3a3a"/>
<rect x="227" y="476" width="46" height="8" fill="#555555"/>
<rect x="276" y="476" width="18" height="8" fill="#6e6e6e"/>
<rect x="296" y="476" width="2" height="8" fill="#444444"/>
<rect x="298" y="476" width="4" height="8" fill="#666666"/>
<rect x="304" y="476" width="12" height="8" fill="#6e6e6e"/>
<rect x="320" y="476" width="2" height="8" fill="#333333"/>
<rect x="324" y="476" width="14" height="8" fill="#555555"/>
<rect x="338" y="476" width="4" height="8" fill="#777777"/>
<rect x="343" y="476" width="18" height="8" fill="#555555"/>
<rect x="363" y="476" width="5" height="8" fill="#444444"/>
<rect x="370" y="476" width="3" height="8" fill="#444444"/>
<rect x="374" y="476" width="15" height="8" fill="#555555"/>
<rect x="389" y="476" width="15" height="8" fill="#333333"/>
<rect x="405" y="476" width="25" height="8" fill="#555555"/>
<rect x="432" y="476" width="2" height="8" fill="#222222"/>
<rect x="436" y="476" width="13" height="8" fill="#555555"/>
<rect x="451" y="476" width="2" height="8" fill="#888888"/>
<rect x="453" y="476" width="9" height="8" fill="#555555"/>
<rect x="464" y="476" width="4" height="8" fill="#777777"/>
<rect x="468" y="476" width="4" height="8" fill="#555555"/>
<rect x="473" y="476" width="18" height="8" fill="#555555"/>
<rect x="492" y="476" width="27" height="8" fill="#555555"/>
<rect x="520" y="476" width="10" height="8" fill="#555555"/>
<rect x="531" y="476" width="14" height="8" fill="#555555"/>
<rect x="545" y="476" width="3" height="8" fill="#333333"/>
<rect x="550" y="476" width="14" height="8" fill="#555555"/>
<rect x="564" y="476" width="1" height="8" fill="#333333"/>
<rect x="565" y="476" width="2" height="8" fill="#999999"/>
<rect x="568" y="476" width="8" height="8" fill="#777777"/>
<rect x="578" y="476" width="14" height="8" fill="#555555"/>
<rect x="592" y="476" width="15" height="8" fill="#333333"/>
<rect x="607" y="476" width="12" height="8" fill="#555555"/>
<rect x="118" y="485" width="22" height="8" fill="#505050"/>
<rect x="140" y="485" width="14" height="8" fill="#3a3a3a"/>
<rect x="154" y="485" width="15" height="8" fill="#6e6e6e"/>
<rect x="169" y="485" width="14" height="8" fill="#3a3a3a"/>
<rect x="183" y="485" width="14" height="8" fill="#555555"/>
<rect x="197" y="485" width="7" height="8" fill="#3a3a3a"/>
<rect x="204" y="485" width="37" height="8" fill="#555555"/>
<rect x="241" y="485" width="15" height="8" fill="#777777"/>
<rect x="256" y="485" width="10" height="8" fill="#555555"/>
<rect x="268" y="485" width="4" height="8" fill="#444444"/>
<rect x="276" y="485" width="6" height="8" fill="#666666"/>
<rect x="287" y="485" width="11" height="8" fill="#444444"/>
<rect x="300" y="485" width="2" height="8" fill="#444444"/>
<rect x="304" y="485" width="10" height="8" fill="#666666"/>
<rect x="325" y="485" width="1" height="8" fill="#444444"/>
<rect x="326" y="485" width="13" height="8" fill="#777777"/>
<rect x="341" y="485" width="5" height="8" fill="#666666"/>
<rect x="346" y="485" width="14" height="8" fill="#555555"/>
<rect x="363" y="485" width="5" height="8" fill="#333333"/>
<rect x="370" y="485" width="3" height="8" fill="#444444"/>
<rect x="375" y="485" width="5" height="8" fill="#555555"/>
<rect x="382" y="485" width="2" height="8" fill="#444444"/>
<rect x="384" y="485" width="4" height="8" fill="#777777"/>
<rect x="388" y="485" width="13" height="8" fill="#333333"/>
<rect x="401" y="485" width="3" height="8" fill="#555555"/>
<rect x="405" y="485" width="11" height="8" fill="#555555"/>
<rect x="416" y="485" width="8" height="8" fill="#777777"/>
<rect x="424" y="485" width="5" height="8" fill="#333333"/>
<rect x="431" y="485" width="2" height="8" fill="#444444"/>
<rect x="438" y="485" width="7" height="8" fill="#333333"/>
<rect x="447" y="485" width="2" height="8" fill="#444444"/>
<rect x="450" y="485" width="10" height="8" fill="#666666"/>
<rect x="464" y="485" width="4" height="8" fill="#777777"/>
<rect x="468" y="485" width="4" height="8" fill="#444444"/>
<rect x="473" y="485" width="10" height="8" fill="#555555"/>
<rect x="484" y="485" width="3" height="8" fill="#666666"/>
<rect x="487" y="485" width="4" height="8" fill="#444444"/>
<rect x="492" y="485" width="27" height="8" fill="#555555"/>
<rect x="520" y="485" width="4" height="8" fill="#333333"/>
<rect x="525" y="485" width="5" height="8" fill="#333333"/>
<rect x="531" y="485" width="4" height="8" fill="#444444"/>
<rect x="535" y="485" width="3" height="8" fill="#333333"/>
<rect x="539" y="485" width="6" height="8" fill="#777777"/>
<rect x="545" y="485" width="3" height="8" fill="#333333"/>
<rect x="550" y="485" width="6" height="8" fill="#333333"/>
<rect x="556" y="485" width="12" height="8" fill="#555555"/>
<rect x="568" y="485" width="4" height="8" fill="#aaaaaa"/>
<rect x="572" y="485" width="9" height="8" fill="#777777"/>
<rect x="581" y="485" width="35" height="8" fill="#555555"/>
<rect x="618" y="485" width="1" height="8" fill="#666666"/>
<rect x="118" y="494" width="3" height="8" fill="#aaaaaa"/>
<rect x="122" y="494" width="14" height="8" fill="#666666"/>
<rect x="137" y="494" width="6" height="8" fill="#555555"/>
<rect x="143" y="494" width="9" height="8" fill="#777777"/>
<rect x="154" y="494" width="1" height="8" fill="#777777"/>
<rect x="160" y="494" width="1" height="8" fill="#777777"/>
<rect x="163" y="494" width="2" height="8" fill="#555555"/>
<rect x="168" y="494" width="2" height="8" fill="#666666"/>
<rect x="171" y="494" width="5" height="8" fill="#444444"/>
<rect x="176" y="494" width="8" height="8" fill="#777777"/>
<rect x="186" y="494" width="2" height="8" fill="#555555"/>
<rect x="190" y="494" width="2" height="8" fill="#444444"/>
<rect x="194" y="494" width="1" height="8" fill="#666666"/>
<rect x="197" y="494" width="7" height="8" fill="#777777"/>
<rect x="204" y="494" width="3" height="8" fill="#999999"/>
<rect x="207" y="494" width="3" height="8" fill="#666666"/>
<rect x="211" y="494" width="1" height="8" fill="#555555"/>
<rect x="213" y="494" width="6" height="8" fill="#666666"/>
<rect x="219" y="494" width="3" height="8" fill="#888888"/>
<rect x="223" y="494" width="3" height="8" fill="#555555"/>
<rect x="228" y="494" width="1" height="8" fill="#666666"/>
<rect x="230" y="494" width="7" height="8" fill="#999999"/>
<rect x="238" y="494" width="4" height="8" fill="#666666"/>
<rect x="242" y="494" width="6" height="8" fill="#888888"/>
<rect x="253" y="494" width="9" height="8" fill="#666666"/>
<rect x="269" y="494" width="2" height="8" fill="#555555"/>
<rect x="277" y="494" width="4" height="8" fill="#888888"/>
<rect x="292" y="494" width="2" height="8" fill="#555555"/>
<rect x="296" y="494" width="1" height="8" fill="#555555"/>
<rect x="300" y="494" width="2" height="8" fill="#555555"/>
<rect x="306" y="494" width="2" height="8" fill="#555555"/>
<rect x="308" y="494" width="3" height="8" fill="#aaaaaa"/>
<rect x="313" y="494" width="2" height="8" fill="#888888"/>
<rect x="328" y="494" width="2" height="8" fill="#bbbbbb"/>
<rect x="330" y="494" width="3" height="8" fill="#888888"/>
<rect x="334" y="494" width="2" height="8" fill="#333333"/>
<rect x="337" y="494" width="1" height="8" fill="#444444"/>
<rect x="344" y="494" width="1" height="8" fill="#777777"/>
<rect x="347" y="494" width="5" height="8" fill="#888888"/>
<rect x="352" y="494" width="3" height="8" fill="#333333"/>
<rect x="355" y="494" width="2" height="8" fill="#cccccc"/>
<rect x="358" y="494" width="2" height="8" fill="#777777"/>
<rect x="364" y="494" width="2" height="8" fill="#555555"/>
<rect x="367" y="494" width="1" height="8" fill="#333333"/>
<rect x="371" y="494" width="2" height="8" fill="#777777"/>
<rect x="376" y="494" width="3" height="8" fill="#aaaaaa"/>
<rect x="379" y="494" width="2" height="8" fill="#888888"/>
<rect x="382" y="494" width="4" height="8" fill="#666666"/>
<rect x="388" y="494" width="10" height="8" fill="#777777"/>
<rect x="402" y="494" width="1" height="8" fill="#555555"/>
<rect x="407" y="494" width="3" height="8" fill="#444444"/>
<rect x="411" y="494" width="4" height="8" fill="#666666"/>
<rect x="421" y="494" width="2" height="8" fill="#666666"/>
<rect x="425" y="494" width="4" height="8" fill="#666666"/>
<rect x="432" y="494" width="1" height="8" fill="#444444"/>
<rect x="439" y="494" width="5" height="8" fill="#aaaaaa"/>
<rect x="451" y="494" width="2" height="8" fill="#777777"/>
<rect x="455" y="494" width="2" height="8" fill="#666666"/>
<rect x="466" y="494" width="2" height="8" fill="#555555"/>
<rect x="470" y="494" width="2" height="8" fill="#777777"/>
<rect x="474" y="494" width="2" height="8" fill="#111111"/>
<rect x="477" y="494" width="1" height="8" fill="#444444"/>
<rect x="480" y="494" width="1" height="8" fill="#777777"/>
<rect x="484" y="494" width="2" height="8" fill="#999999"/>
<rect x="486" y="494" width="3" height="8" fill="#666666"/>
<rect x="492" y="494" width="2" height="8" fill="#666666"/>
<rect x="495" y="494" width="2" height="8" fill="#444444"/>
<rect x="497" y="494" width="2" height="8" fill="#999999"/>
<rect x="502" y="494" width="3" height="8" fill="#555555"/>
<rect x="507" y="494" width="3" height="8" fill="#555555"/>
<rect x="511" y="494" width="3" height="8" fill="#aaaaaa"/>
<rect x="517" y="494" width="1" height="8" fill="#888888"/>
<rect x="521" y="494" width="1" height="8" fill="#444444"/>
<rect x="523" y="494" width="1" height="8" fill="#444444"/>
<rect x="526" y="494" width="2" height="8" fill="#333333"/>
<rect x="528" y="494" width="2" height="8" fill="#777777"/>
<rect x="532" y="494" width="3" height="8" fill="#888888"/>
<rect x="536" y="494" width="1" height="8" fill="#888888"/>
<rect x="539" y="494" width="3" height="8" fill="#333333"/>
<rect x="546" y="494" width="2" height="8" fill="#888888"/>
<rect x="550" y="494" width="2" height="8" fill="#333333"/>
<rect x="552" y="494" width="3" height="8" fill="#666666"/>
<rect x="557" y="494" width="3" height="8" fill="#555555"/>
<rect x="561" y="494" width="3" height="8" fill="#aaaaaa"/>
<rect x="567" y="494" width="2" height="8" fill="#aaaaaa"/>
<rect x="574" y="494" width="1" height="8" fill="#333333"/>
<rect x="577" y="494" width="1" height="8" fill="#444444"/>
<rect x="582" y="494" width="2" height="8" fill="#aaaaaa"/>
<rect x="588" y="494" width="3" height="8" fill="#333333"/>
<rect x="592" y="494" width="4" height="8" fill="#888888"/>
<rect x="596" y="494" width="2" height="8" fill="#333333"/>
<rect x="598" y="494" width="2" height="8" fill="#666666"/>
<rect x="602" y="494" width="1" height="8" fill="#555555"/>
<rect x="605" y="494" width="1" height="8" fill="#666666"/>
<rect x="607" y="494" width="3" height="8" fill="#999999"/>
<rect x="612" y="494" width="3" height="8" fill="#666666"/>
<rect x="168" y="503" width="1" height="8" fill="#333333"/>
<rect x="172" y="503" width="4" height="8" fill="#666666"/>
<rect x="178" y="503" width="6" height="8" fill="#999999"/>
<rect x="186" y="503" width="2" height="8" fill="#444444"/>
<rect x="191" y="503" width="1" height="8" fill="#999999"/>
<rect x="194" y="503" width="1" height="8" fill="#666666"/>
<rect x="200" y="503" width="3" height="8" fill="#444444"/>
<rect x="206" y="503" width="1" height="8" fill="#111111"/>
<rect x="213" y="503" width="1" height="8" fill="#444444"/>
<rect x="216" y="503" width="2" height="8" fill="#666666"/>
<rect x="218" y="503" width="1" height="8" fill="#aaaaaa"/>
<rect x="219" y="503" width="1" height="8" fill="#555555"/>
<rect x="224" y="503" width="1" height="8" fill="#444444"/>
<rect x="234" y="503" width="3" height="8" fill="#444444"/>
<rect x="239" y="503" width="1" height="8" fill="#444444"/>
<rect x="241" y="503" width="1" height="8" fill="#444444"/>
<rect x="245" y="503" width="1" height="8" fill="#333333"/>
<rect x="247" y="503" width="1" height="8" fill="#444444"/>
<rect x="256" y="503" width="2" height="8" fill="#999999"/>
<rect x="258" y="503" width="1" height="8" fill="#333333"/>
<rect x="259" y="503" width="3" height="8" fill="#999999"/>
<rect x="278" y="503" width="3" height="8" fill="#666666"/>
<rect x="334" y="503" width="2" height="8" fill="#555555"/>
<rect x="344" y="503" width="1" height="8" fill="#444444"/>
<rect x="352" y="503" width="1" height="8" fill="#333333"/>
<rect x="354" y="503" width="1" height="8" fill="#333333"/>
<rect x="358" y="503" width="1" height="8" fill="#444444"/>
<rect x="360" y="503" width="1" height="8" fill="#555555"/>
<rect x="367" y="503" width="1" height="8" fill="#444444"/>
<rect x="388" y="503" width="2" height="8" fill="#cccccc"/>
<rect x="391" y="503" width="2" height="8" fill="#111111"/>
<rect x="395" y="503" width="1" height="8" fill="#555555"/>
<rect x="402" y="503" width="1" height="8" fill="#333333"/>
<rect x="406" y="503" width="1" height="8" fill="#555555"/>
<rect x="409" y="503" width="1" height="8" fill="#111111"/>
<rect x="422" y="503" width="1" height="8" fill="#444444"/>
<rect x="425" y="503" width="1" height="8" fill="#555555"/>
<rect x="439" y="503" width="1" height="8" fill="#444444"/>
<rect x="442" y="503" width="1" height="8" fill="#555555"/>
<rect x="471" y="503" width="1" height="8" fill="#777777"/>
<rect x="474" y="503" width="2" height="8" fill="#333333"/>
<rect x="486" y="503" width="3" height="8" fill="#444444"/>
<rect x="496" y="503" width="1" height="8" fill="#333333"/>
<rect x="500" y="503" width="1" height="8" fill="#555555"/>
<rect x="504" y="503" width="1" height="8" fill="#333333"/>
<rect x="507" y="503" width="2" height="8" fill="#555555"/>
<rect x="509" y="503" width="2" height="8" fill="#cccccc"/>
<rect x="512" y="503" width="2" height="8" fill="#444444"/>
<rect x="521" y="503" width="1" height="8" fill="#333333"/>
<rect x="526" y="503" width="1" height="8" fill="#444444"/>
<rect x="529" y="503" width="1" height="8" fill="#444444"/>
<rect x="533" y="503" width="2" height="8" fill="#555555"/>
<rect x="540" y="503" width="2" height="8" fill="#333333"/>
<rect x="550" y="503" width="2" height="8" fill="#555555"/>
<rect x="563" y="503" width="1" height="8" fill="#555555"/>
<rect x="568" y="503" width="1" height="8" fill="#888888"/>
<rect x="573" y="503" width="1" height="8" fill="#333333"/>
<rect x="575" y="503" width="1" height="8" fill="#333333"/>
<rect x="577" y="503" width="1" height="8" fill="#333333"/>
<rect x="590" y="503" width="1" height="8" fill="#555555"/>
<rect x="593" y="503" width="1" height="8" fill="#777777"/>
<rect x="595" y="503" width="1" height="8" fill="#777777"/>
<rect x="597" y="503" width="1" height="8" fill="#111111"/>
<rect x="600" y="503" width="1" height="8" fill="#555555"/>
<rect x="118" y="512" width="1" height="8" fill="#555555"/>
<rect x="120" y="512" width="1" height="8" fill="#555555"/>
<rect x="124" y="512" width="1" height="8" fill="#444444"/>
<rect x="126" y="512" width="1" height="8" fill="#444444"/>
<rect x="131" y="512" width="1" height="8" fill="#444444"/>
<rect x="133" y="512" width="4" height="8" fill="#999999"/>
<rect x="141" y="512" width="2" height="8" fill="#999999"/>
<rect x="148" y="512" width="2" height="8" fill="#666666"/>
<rect x="151" y="512" width="2" height="8" fill="#444444"/>
<rect x="172" y="512" width="3" height="8" fill="#888888"/>
<rect x="178" y="512" width="2" height="8" fill="#cccccc"/>
<rect x="181" y="512" width="2" height="8" fill="#555555"/>
<rect x="201" y="512" width="1" height="8" fill="#555555"/>
<rect x="206" y="512" width="1" height="8" fill="#333333"/>
<rect x="224" y="512" width="1" height="8" fill="#333333"/>
<rect x="245" y="512" width="1" height="8" fill="#333333"/>
<rect x="247" y="512" width="1" height="8" fill="#555555"/>
<rect x="258" y="512" width="1" height="8" fill="#444444"/>
<rect x="259" y="512" width="2" height="8" fill="#999999"/>
<rect x="283" y="512" width="1" height="8" fill="#333333"/>
<rect x="334" y="512" width="2" height="8" fill="#555555"/>
<rect x="344" y="512" width="1" height="8" fill="#444444"/>
<rect x="353" y="512" width="2" height="8" fill="#444444"/>
<rect x="356" y="512" width="1" height="8" fill="#555555"/>
<rect x="390" y="512" width="3" height="8" fill="#333333"/>
<rect x="409" y="512" width="1" height="8" fill="#555555"/>
<rect x="474" y="512" width="2" height="8" fill="#111111"/>
<rect x="496" y="512" width="1" height="8" fill="#555555"/>
<rect x="540" y="512" width="2" height="8" fill="#222222"/>
<rect x="563" y="512" width="1" height="8" fill="#444444"/>
<rect x="573" y="512" width="1" height="8" fill="#333333"/>
<rect x="575" y="512" width="1" height="8" fill="#333333"/>
<rect x="577" y="512" width="1" height="8" fill="#333333"/>
<rect x="597" y="512" width="1" height="8" fill="#222222"/>
<rect x="120" y="521" width="1" height="8" fill="#555555"/>
<rect x="134" y="521" width="2" height="8" fill="#bbbbbb"/>
<rect x="141" y="521" width="1" height="8" fill="#111111"/>
<rect x="148" y="521" width="1" height="8" fill="#333333"/>
<rect x="158" y="521" width="2" height="8" fill="#555555"/>
<rect x="176" y="521" width="1" height="8" fill="#888888"/>
<rect x="179" y="521" width="1" height="8" fill="#888888"/>
<rect x="182" y="521" width="1" height="8" fill="#888888"/>
<rect x="245" y="521" width="1" height="8" fill="#cccccc"/>
<rect x="258" y="521" width="2" height="8" fill="#bbbbbb"/>
<rect x="260" y="521" width="1" height="8" fill="#333333"/>
<rect x="283" y="521" width="1" height="8" fill="#333333"/>
<rect x="311" y="521" width="1" height="8" fill="#555555"/>
<rect x="320" y="521" width="2" height="8" fill="#777777"/>
<rect x="353" y="521" width="2" height="8" fill="#555555"/>
<rect x="371" y="521" width="1" height="8" fill="#777777"/>
<rect x="390" y="521" width="3" height="8" fill="#444444"/>
<rect x="474" y="521" width="1" height="8" fill="#333333"/>
<rect x="597" y="521" width="1" height="8" fill="#222222"/>
</svg>
<div class="t" style="left:84.5px;top:4px;color:#000000">Scale</div>
<div class="t" style="left:78.5px;top:15px;color:#000000">chr18:</div>
<div class="t" style="left:211.5px;top:4px;color:#000000">500 kb</div>
<div class="t" style="left:496.5px;top:4px;color:#000000">hg19</div>
<div class="t" style="left:314.5px;top:15px;color:#000000">53,500,000</div>
<div class="t" style="left:552.5px;top:15px;color:#000000">54,000,000</div>
<div class="t" style="left:332.6px;top:24px;color:#237823">TCF4_cluster</div>
<div class="t" style="left:42.5px;top:33px;color:#237823">TCF4_cluster</div>
<div class="t" style="left:296.6px;top:43px;color:#3c82ff">TCF4 Human/Chicken UCNEs</div>
<div class="t" style="left:12.5px;top:52px;color:#3c82ff">man/Chicken UCNEs</div>
<div class="t" style="left:338.6px;top:62px;color:#0a1eb4">TCF4 Mouse</div>
<div class="t" style="left:54.5px;top:71px;color:#0a1eb4">TCF4 Mouse</div>
<div class="t" style="left:332.6px;top:81px;color:#2a9b14">TCF4 Opossum</div>
<div class="t" style="left:42.5px;top:90px;color:#2a9b14">TCF4 Opossum</div>
<div class="t" style="left:329.6px;top:100px;color:#d2144b">TCF4 Platypus</div>
<div class="t" style="left:36.5px;top:109px;color:#d2144b">TCF4 Platypus</div>
<div class="t" style="left:320.6px;top:119px;color:#14a0c8">TCF4 Zebra finch</div>
<div class="t" style="left:18.5px;top:128px;color:#14a0c8">TCF4 Zebra finch</div>
<div class="t" style="left:335.6px;top:138px;color:#e6820a">TCF4 Lizard</div>
<div class="t" style="left:48.5px;top:147px;color:#e6820a">TCF4 Lizard</div>
<div class="t" style="left:311.6px;top:157px;color:#7814e6">TCF4 Painted turtle</div>
<div class="t" style="left:12.5px;top:166px;color:#7814e6">F4 Painted turtle</div>
<div class="t" style="left:332.6px;top:176px;color:#c8c314">TCF4 Xenopus</div>
<div class="t" style="left:42.5px;top:185px;color:#c8c314">TCF4 Xenopus</div>
<div class="t" style="left:341.6px;top:195px;color:#f0735a">TCF4 Fugu</div>
<div class="t" style="left:60.5px;top:204px;color:#f0735a">TCF4 Fugu</div>
<div class="t" style="left:320.6px;top:214px;color:#8c8c8c">TCF4 Stickleback</div>
<div class="t" style="left:18.5px;top:223px;color:#8c8c8c">TCF4 Stickleback</div>
<div class="t" style="left:335.6px;top:233px;color:#d214d2">TCF4 Medaka</div>
<div class="t" style="left:48.5px;top:242px;color:#d214d2">TCF4 Medaka</div>
<div class="t" style="left:326.6px;top:252px;color:#000000">TCF4 Zebrafish</div>
<div class="t" style="left:30.5px;top:261px;color:#000000">TCF4 Zebrafish</div>
<div class="t" style="left:332.6px;top:271px;color:#0c0c78">RefSeq Genes</div>
<div class="t" style="left:90.5px;top:280px;color:#0c0c78">TCF4</div>
<div class="t" style="left:90.5px;top:290px;color:#0c0c78">TCF4</div>
<div class="t" style="left:90.5px;top:300px;color:#0c0c78">TCF4</div>
<div class="t" style="left:90.5px;top:310px;color:#0c0c78">TCF4</div>
<div class="t" style="left:90.5px;top:320px;color:#0c0c78">TCF4</div>
<div class="t" style="left:90.5px;top:330px;color:#0c0c78">TCF4</div>
<div class="t" style="left:90.5px;top:340px;color:#0c0c78">TCF4</div>
<div class="t" style="left:90.5px;top:350px;color:#0c0c78">TCF4</div>
<div class="t" style="left:90.5px;top:360px;color:#0c0c78">TCF4</div>
<div class="t" style="left:90.5px;top:370px;color:#0c0c78">TCF4</div>
<div class="t" style="left:90.5px;top:380px;color:#0c0c78">TCF4</div>
<div class="t" style="left:90.5px;top:390px;color:#0c0c78">TCF4</div>
<div class="t" style="left:163.5px;top:320px;color:#5d5da5">MIR4529</div>
<div class="t" style="left:420.5px;top:280px;color:#0c0c78">LOC100505474</div>
<div class="t" style="left:420.5px;top:290px;color:#0c0c78">LOC100505474</div>
<div class="t" style="left:260.6px;top:400px;color:#227622">Vertebrate Conservation by PhastCons</div>
<div class="t" style="left:96.5px;top:400px;color:#227622">1</div>
<div class="t u" style="left:109px;top:400px;color:#227622">_</div>
<div class="t" style="left:12.5px;top:418px;color:#227622">Vertebrate Cons</div>
<div class="t" style="left:96.5px;top:440px;color:#227622">0</div>
<div class="t u" style="left:109px;top:440px;color:#227622">_</div>
<div class="t" style="left:263.6px;top:450px;color:#000a64">Multiz Alignments of 46 Vertebrates</div>
<div class="t" style="left:78.5px;top:459px;color:#000a64">Rhesus</div>
<div class="t" style="left:84.5px;top:468px;color:#005a0a">Mouse</div>
<div class="t" style="left:96.5px;top:477px;color:#005a0a">Dog</div>
<div class="t" style="left:66.5px;top:486px;color:#005a0a">Elephant</div>
<div class="t" style="left:72.5px;top:495px;color:#000a64">Opossum</div>
<div class="t" style="left:72.5px;top:504px;color:#000a64">Chicken</div>
<div class="t" style="left:42.5px;top:513px;color:#000a64">X_tropicalis</div>
<div class="t" style="left:60.5px;top:522px;color:#000a64">Zebrafish</div>
</div>
</body></html>
